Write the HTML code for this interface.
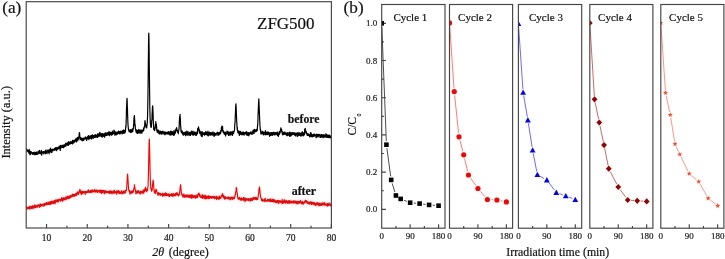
<!DOCTYPE html>
<html><head><meta charset="utf-8"><style>
html,body{margin:0;padding:0;background:#fff;width:725px;height:259px;overflow:hidden}
body{position:relative;font-family:"Liberation Serif",serif}
</style></head><body>
<svg width="725" height="259" viewBox="0 0 725 259" style="position:absolute;left:0;top:0;will-change:transform">
<style>text{stroke:currentColor;stroke-width:0.18px;paint-order:stroke}</style>
<rect x="0" y="0" width="725" height="259" fill="#fff"/>
<defs><clipPath id="ca"><rect x="26.2" y="1.7" width="305.2" height="226.3"/></clipPath></defs>
<g clip-path="url(#ca)" fill="none" stroke-linejoin="round">
<path d="M26.20 149.7 26.32 150.3 26.45 150.0 26.57 148.6 26.70 150.8 26.82 150.5 26.95 149.7 27.07 150.9 27.20 150.8 27.32 150.9 27.45 150.8 27.57 151.4 27.70 150.2 27.82 150.9 27.95 150.7 28.07 151.8 28.20 151.3 28.32 151.1 28.45 150.7 28.57 151.3 28.70 151.7 28.82 151.5 28.95 153.1 29.07 152.9 29.20 149.4 29.32 150.3 29.45 152.0 29.57 151.9 29.70 152.6 29.82 152.7 29.95 154.6 30.07 151.6 30.20 152.3 30.32 154.6 30.45 153.4 30.57 153.4 30.70 152.3 30.82 151.3 30.95 153.1 31.07 153.1 31.20 151.8 31.32 152.4 31.45 153.0 31.57 152.2 31.70 153.1 31.82 153.3 31.95 153.3 32.08 152.8 32.20 153.9 32.33 154.2 32.45 153.7 32.58 152.7 32.70 154.2 32.83 153.1 32.95 154.4 33.08 152.6 33.20 154.5 33.33 153.6 33.45 152.4 33.58 153.3 33.70 153.7 33.83 153.9 33.95 152.7 34.08 152.6 34.20 153.8 34.33 153.2 34.45 153.9 34.58 154.4 34.70 152.1 34.83 153.9 34.95 154.8 35.08 153.4 35.20 152.9 35.33 154.4 35.45 153.9 35.58 154.5 35.70 153.3 35.83 152.3 35.95 153.6 36.08 153.2 36.20 154.4 36.33 153.8 36.45 152.0 36.58 152.4 36.70 154.4 36.83 154.2 36.95 152.9 37.08 153.5 37.20 153.9 37.33 153.9 37.45 154.2 37.58 153.6 37.70 153.2 37.83 153.0 37.95 154.2 38.08 151.0 38.20 152.9 38.33 153.0 38.45 151.5 38.58 153.0 38.70 151.9 38.83 153.2 38.95 152.0 39.08 152.6 39.20 153.0 39.33 152.1 39.45 150.9 39.58 150.3 39.70 153.5 39.83 151.9 39.95 151.5 40.08 152.4 40.20 152.2 40.33 153.3 40.45 152.6 40.58 152.7 40.70 152.0 40.83 153.2 40.95 151.8 41.08 153.4 41.20 154.2 41.33 151.3 41.45 150.4 41.58 153.3 41.70 155.2 41.83 151.8 41.95 151.5 42.08 153.3 42.20 151.9 42.33 152.2 42.45 152.3 42.58 153.2 42.70 152.3 42.83 152.9 42.95 152.4 43.08 151.8 43.20 152.3 43.33 151.7 43.45 152.6 43.58 151.5 43.70 151.5 43.83 153.9 43.95 152.4 44.08 152.4 44.20 152.9 44.33 152.0 44.45 152.1 44.58 152.7 44.70 152.6 44.83 151.2 44.95 153.0 45.08 151.6 45.20 151.2 45.33 151.3 45.45 151.7 45.58 153.6 45.70 150.9 45.83 152.1 45.95 149.9 46.08 151.9 46.20 152.7 46.33 151.6 46.45 151.2 46.58 152.0 46.70 152.4 46.83 152.3 46.95 153.6 47.08 151.8 47.20 151.0 47.33 151.5 47.45 151.5 47.58 151.6 47.70 151.4 47.83 151.6 47.95 149.8 48.08 152.2 48.20 150.8 48.33 150.2 48.45 151.9 48.58 152.5 48.70 151.7 48.83 151.3 48.95 150.3 49.08 153.8 49.20 151.9 49.33 150.0 49.45 150.3 49.58 151.1 49.70 149.5 49.83 151.1 49.95 150.5 50.08 152.0 50.20 151.7 50.33 148.2 50.45 150.8 50.58 149.2 50.70 151.8 50.83 150.8 50.95 151.2 51.08 149.6 51.20 152.3 51.33 152.5 51.45 149.5 51.58 150.8 51.70 149.8 51.83 150.4 51.95 149.2 52.08 152.1 52.20 149.4 52.33 150.0 52.45 150.7 52.58 149.6 52.70 150.0 52.83 149.6 52.95 150.0 53.08 149.0 53.20 149.6 53.33 149.8 53.45 149.7 53.58 150.0 53.70 149.6 53.83 150.6 53.95 149.6 54.08 149.7 54.20 149.2 54.33 149.3 54.45 148.5 54.58 150.2 54.70 148.6 54.83 148.9 54.95 149.9 55.08 149.9 55.20 149.1 55.33 147.6 55.45 149.8 55.58 149.6 55.70 148.0 55.83 150.0 55.95 148.6 56.08 148.1 56.20 149.2 56.33 148.9 56.45 149.2 56.58 147.5 56.70 150.7 56.83 148.3 56.95 147.4 57.08 149.4 57.20 148.4 57.33 149.0 57.45 148.3 57.58 148.6 57.70 148.8 57.83 147.8 57.95 149.1 58.08 148.0 58.20 147.6 58.33 148.4 58.45 148.7 58.58 148.0 58.70 147.4 58.83 148.7 58.95 146.4 59.08 147.1 59.20 148.0 59.33 146.7 59.45 147.9 59.58 147.8 59.70 148.7 59.83 146.9 59.95 147.1 60.08 148.0 60.20 145.3 60.33 150.5 60.45 146.8 60.58 146.7 60.70 148.1 60.83 147.2 60.95 145.5 61.08 147.7 61.20 147.9 61.33 146.6 61.45 146.7 61.58 147.3 61.70 146.0 61.83 147.2 61.95 146.9 62.08 146.0 62.20 145.2 62.33 146.3 62.45 145.6 62.58 147.3 62.70 146.4 62.83 147.0 62.95 146.3 63.08 146.4 63.20 145.3 63.33 146.6 63.45 147.6 63.58 145.6 63.70 145.2 63.83 145.6 63.95 145.2 64.08 144.9 64.20 145.7 64.33 145.2 64.45 146.8 64.58 145.3 64.70 145.6 64.83 146.1 64.95 144.8 65.08 146.4 65.20 144.4 65.33 144.2 65.45 144.5 65.58 144.7 65.70 143.4 65.83 144.6 65.95 143.0 66.08 145.9 66.20 144.4 66.33 143.9 66.45 143.6 66.58 144.0 66.70 144.1 66.83 143.3 66.95 143.4 67.08 144.0 67.20 143.7 67.33 145.0 67.45 145.2 67.58 144.1 67.70 144.4 67.83 142.7 67.95 144.5 68.08 143.8 68.20 144.3 68.33 145.3 68.45 141.6 68.58 143.9 68.70 142.6 68.83 144.2 68.95 142.3 69.08 143.0 69.20 143.7 69.33 144.0 69.45 143.5 69.58 142.6 69.70 142.8 69.83 144.1 69.95 143.2 70.08 141.6 70.20 143.9 70.33 143.4 70.45 143.8 70.58 142.6 70.70 143.6 70.83 141.8 70.95 143.3 71.08 142.2 71.20 143.2 71.33 143.5 71.45 141.8 71.58 142.3 71.70 142.4 71.83 143.4 71.95 142.9 72.08 141.0 72.20 142.5 72.33 142.7 72.45 144.0 72.58 140.3 72.70 141.3 72.83 143.1 72.95 140.4 73.08 140.5 73.20 142.1 73.33 142.5 73.45 140.9 73.58 142.0 73.70 141.5 73.83 142.8 73.95 141.3 74.08 142.1 74.20 140.3 74.33 140.9 74.45 140.9 74.58 142.1 74.70 141.5 74.83 140.1 74.95 141.4 75.08 141.5 75.20 140.6 75.33 140.4 75.45 140.4 75.58 138.9 75.70 140.6 75.83 140.6 75.95 139.5 76.08 141.0 76.20 138.9 76.33 139.6 76.45 139.6 76.58 141.9 76.70 138.4 76.83 140.4 76.95 140.7 77.08 140.1 77.20 140.8 77.33 138.6 77.45 137.4 77.58 140.2 77.70 138.2 77.83 139.0 77.95 138.1 78.08 140.1 78.20 139.8 78.33 138.2 78.45 139.5 78.58 138.4 78.70 137.6 78.83 137.0 78.95 135.8 79.08 135.4 79.20 134.0 79.33 132.6 79.45 133.8 79.58 132.9 79.70 134.8 79.83 136.0 79.95 138.1 80.08 137.0 80.20 139.6 80.33 138.5 80.45 138.4 80.58 138.1 80.70 139.3 80.83 138.8 80.95 137.8 81.08 137.8 81.20 138.3 81.33 138.2 81.45 139.9 81.58 140.1 81.70 139.7 81.83 139.2 81.95 138.4 82.08 138.9 82.20 139.6 82.33 140.8 82.45 139.6 82.58 138.5 82.70 138.8 82.83 138.3 82.95 138.0 83.08 138.5 83.20 138.9 83.33 140.4 83.45 138.7 83.58 139.9 83.70 140.3 83.83 138.7 83.95 140.1 84.08 139.3 84.20 138.2 84.33 138.8 84.45 138.6 84.58 138.3 84.70 138.3 84.83 138.6 84.95 138.9 85.08 137.6 85.20 138.4 85.33 136.9 85.45 138.6 85.58 138.9 85.70 138.5 85.83 138.5 85.95 138.8 86.08 137.6 86.20 137.9 86.33 138.6 86.45 139.1 86.58 138.4 86.70 140.5 86.83 137.9 86.95 138.9 87.08 139.1 87.20 137.8 87.33 137.1 87.45 136.7 87.58 138.0 87.70 138.8 87.83 138.0 87.95 137.9 88.08 137.3 88.20 138.2 88.33 135.6 88.45 137.8 88.58 137.6 88.70 136.2 88.83 139.6 88.95 136.1 89.08 136.4 89.20 136.2 89.33 138.4 89.45 136.5 89.58 137.9 89.70 137.8 89.83 137.5 89.95 136.0 90.08 136.6 90.20 138.7 90.33 135.9 90.45 136.3 90.58 136.9 90.70 137.8 90.83 137.3 90.95 137.7 91.08 136.0 91.20 137.8 91.33 137.5 91.45 135.4 91.58 138.3 91.70 139.0 91.83 136.1 91.95 136.8 92.08 138.1 92.20 135.3 92.33 134.8 92.45 135.5 92.58 136.1 92.70 136.1 92.83 137.2 92.95 136.8 93.08 135.4 93.20 137.1 93.33 138.3 93.45 137.6 93.58 137.4 93.70 136.5 93.83 137.4 93.95 135.5 94.08 137.1 94.20 136.3 94.33 137.4 94.45 136.7 94.58 135.2 94.70 136.4 94.83 137.4 94.95 135.1 95.08 135.6 95.20 135.4 95.33 134.7 95.45 137.0 95.58 137.3 95.70 136.8 95.83 136.3 95.95 136.0 96.08 136.2 96.20 135.3 96.33 136.8 96.45 136.9 96.58 136.8 96.70 135.4 96.83 135.9 96.95 135.7 97.08 137.5 97.20 135.9 97.33 134.0 97.45 136.1 97.58 137.5 97.70 136.3 97.83 136.5 97.95 135.7 98.08 133.7 98.20 133.9 98.33 134.4 98.45 135.4 98.58 135.8 98.70 136.2 98.83 135.2 98.95 136.4 99.08 135.2 99.20 134.7 99.33 136.2 99.45 134.5 99.58 132.7 99.70 134.3 99.83 135.4 99.95 132.3 100.08 134.9 100.20 134.9 100.33 133.8 100.45 133.8 100.58 134.7 100.70 134.6 100.83 136.3 100.95 135.4 101.08 133.6 101.20 134.2 101.33 135.7 101.45 136.8 101.58 135.4 101.70 135.3 101.83 136.7 101.95 134.9 102.08 134.6 102.20 133.6 102.33 134.4 102.45 137.0 102.58 133.5 102.70 134.9 102.83 133.5 102.95 134.9 103.08 135.6 103.20 134.6 103.33 135.5 103.45 135.4 103.58 135.2 103.70 136.3 103.83 135.4 103.95 134.4 104.08 134.0 104.20 133.8 104.33 135.1 104.45 134.3 104.58 137.2 104.70 136.3 104.83 134.4 104.95 134.2 105.08 136.1 105.20 132.7 105.33 134.1 105.45 135.4 105.58 133.6 105.70 134.0 105.83 134.1 105.95 135.0 106.08 134.5 106.20 134.8 106.33 134.9 106.45 134.4 106.58 135.4 106.70 133.6 106.83 132.9 106.95 132.6 107.08 132.7 107.20 133.7 107.33 135.2 107.45 134.4 107.58 133.6 107.70 133.2 107.83 133.7 107.95 133.8 108.08 133.6 108.20 132.7 108.33 133.6 108.45 135.0 108.58 132.0 108.70 133.8 108.83 132.0 108.95 134.2 109.08 133.3 109.20 132.0 109.33 134.0 109.45 135.7 109.58 134.0 109.70 135.0 109.83 133.8 109.95 131.8 110.08 134.3 110.20 133.4 110.33 132.4 110.45 134.6 110.58 134.1 110.70 133.3 110.83 134.6 110.95 132.9 111.08 134.4 111.20 132.8 111.33 134.2 111.45 132.7 111.58 135.1 111.70 133.9 111.83 135.0 111.95 132.9 112.08 133.2 112.20 134.4 112.33 131.0 112.45 132.6 112.58 134.5 112.70 134.0 112.83 134.5 112.95 133.2 113.08 134.0 113.20 132.8 113.33 132.2 113.45 131.9 113.58 132.9 113.70 132.9 113.83 132.8 113.95 130.0 114.08 131.5 114.20 132.9 114.33 133.6 114.45 132.8 114.58 132.5 114.70 131.1 114.83 135.2 114.95 132.2 115.08 134.9 115.20 134.7 115.33 133.5 115.45 132.7 115.58 133.3 115.70 132.1 115.83 133.4 115.95 133.2 116.08 133.7 116.20 134.0 116.33 134.8 116.45 132.7 116.58 134.1 116.70 132.3 116.83 132.2 116.95 132.5 117.08 132.1 117.20 134.0 117.33 133.9 117.45 134.2 117.58 133.0 117.70 133.2 117.83 132.4 117.95 131.8 118.08 133.3 118.20 133.2 118.33 131.8 118.45 133.4 118.58 131.2 118.70 132.7 118.83 132.2 118.95 132.3 119.08 131.8 119.20 133.7 119.33 133.3 119.45 133.9 119.58 132.8 119.70 131.5 119.83 132.3 119.95 131.5 120.08 133.1 120.20 133.8 120.33 132.9 120.45 132.0 120.58 132.2 120.70 132.8 120.83 131.2 120.95 132.7 121.08 132.7 121.20 132.0 121.33 132.1 121.45 132.7 121.58 131.7 121.70 131.7 121.83 133.2 121.95 132.6 122.08 134.0 122.20 131.5 122.33 130.7 122.45 133.2 122.58 133.2 122.70 131.6 122.83 130.9 122.95 132.2 123.08 130.6 123.20 131.9 123.33 130.1 123.45 131.9 123.58 130.1 123.70 131.8 123.83 133.5 123.95 131.7 124.08 132.6 124.20 131.2 124.33 130.9 124.45 130.3 124.58 132.6 124.70 131.5 124.83 133.0 124.95 130.2 125.08 130.9 125.20 131.0 125.33 132.0 125.45 131.9 125.58 129.0 125.70 127.6 125.83 125.8 125.95 127.0 126.08 123.3 126.20 119.9 126.33 116.9 126.45 110.4 126.58 106.9 126.70 105.2 126.83 101.4 126.95 99.3 127.08 98.4 127.20 102.1 127.33 106.7 127.45 108.1 127.58 113.5 127.70 117.0 127.83 121.2 127.95 123.6 128.07 125.6 128.20 126.5 128.32 128.4 128.45 128.6 128.57 129.6 128.70 130.0 128.82 131.0 128.95 130.0 129.07 130.3 129.20 131.7 129.32 130.6 129.45 130.6 129.57 131.7 129.70 131.2 129.82 131.0 129.95 131.2 130.07 129.8 130.20 131.4 130.32 132.3 130.45 131.6 130.57 129.5 130.70 131.3 130.82 130.1 130.95 130.8 131.07 131.1 131.20 129.8 131.32 132.3 131.45 130.9 131.57 131.7 131.70 131.6 131.82 132.2 131.95 132.1 132.07 129.5 132.20 130.9 132.32 128.8 132.45 130.3 132.57 131.3 132.70 131.3 132.82 131.4 132.95 129.5 133.07 129.7 133.20 128.7 133.32 128.8 133.45 127.9 133.57 124.4 133.70 126.5 133.82 120.8 133.95 118.4 134.07 117.5 134.20 116.4 134.32 115.9 134.45 115.5 134.57 119.0 134.70 119.7 134.82 123.2 134.95 125.1 135.07 124.3 135.20 126.1 135.32 127.2 135.45 129.3 135.57 129.8 135.70 130.4 135.82 129.7 135.95 131.1 136.07 132.2 136.20 129.7 136.32 130.9 136.45 131.4 136.57 131.1 136.70 131.0 136.82 133.0 136.95 132.5 137.07 132.1 137.20 130.6 137.32 133.5 137.45 131.8 137.57 130.9 137.70 131.1 137.82 131.0 137.95 133.5 138.07 131.7 138.20 131.6 138.32 129.5 138.45 132.2 138.57 130.5 138.70 130.5 138.82 132.1 138.95 130.7 139.07 132.3 139.20 132.6 139.32 129.9 139.45 131.4 139.57 130.1 139.70 131.5 139.82 132.4 139.95 130.3 140.07 133.3 140.20 131.3 140.32 130.4 140.45 131.4 140.57 132.3 140.70 130.2 140.82 131.5 140.95 130.2 141.07 132.6 141.20 131.6 141.32 131.0 141.45 132.4 141.57 130.1 141.70 131.0 141.82 133.1 141.95 131.2 142.07 132.6 142.20 131.4 142.32 130.5 142.45 130.9 142.57 131.2 142.70 130.7 142.82 130.2 142.95 130.2 143.07 129.4 143.20 130.8 143.32 130.9 143.45 131.0 143.57 128.3 143.70 130.5 143.82 129.3 143.95 127.4 144.07 128.2 144.20 128.2 144.32 127.1 144.45 126.4 144.57 125.7 144.70 124.8 144.82 123.2 144.95 120.6 145.07 121.6 145.20 122.7 145.32 122.2 145.45 123.8 145.57 124.6 145.70 124.6 145.82 127.0 145.95 125.0 146.07 127.3 146.20 126.4 146.32 126.4 146.45 127.8 146.57 126.7 146.70 127.9 146.82 125.6 146.95 126.2 147.07 124.4 147.20 123.7 147.32 121.6 147.45 118.1 147.57 115.9 147.70 109.0 147.82 102.6 147.95 96.2 148.07 86.5 148.20 75.3 148.32 63.4 148.45 53.9 148.57 41.0 148.70 35.1 148.82 33.2 148.95 38.6 149.07 45.9 149.20 57.2 149.32 68.6 149.45 78.9 149.57 88.8 149.70 97.7 149.82 108.3 149.95 113.1 150.07 117.4 150.20 119.9 150.32 122.4 150.45 124.0 150.57 125.1 150.70 123.9 150.82 126.7 150.95 126.6 151.07 127.3 151.20 127.1 151.32 127.3 151.45 125.8 151.57 125.4 151.70 120.7 151.82 120.0 151.95 120.2 152.07 114.5 152.20 112.4 152.32 110.5 152.45 106.8 152.57 107.4 152.70 105.9 152.82 107.3 152.95 110.7 153.07 113.5 153.20 118.2 153.32 120.7 153.45 123.8 153.57 124.4 153.70 129.3 153.82 127.9 153.95 128.8 154.07 129.7 154.20 129.4 154.32 129.2 154.45 129.9 154.57 130.6 154.70 130.1 154.82 129.9 154.95 127.9 155.07 126.9 155.20 128.6 155.32 125.4 155.45 125.0 155.57 124.3 155.70 124.4 155.82 121.6 155.95 122.9 156.07 123.8 156.20 125.0 156.32 124.2 156.45 127.5 156.57 125.8 156.70 129.7 156.82 130.6 156.95 131.2 157.07 129.8 157.20 132.2 157.32 130.6 157.45 130.4 157.57 130.8 157.70 131.0 157.82 132.0 157.95 132.7 158.07 129.9 158.20 131.5 158.32 132.9 158.45 132.3 158.57 132.6 158.70 130.7 158.82 133.1 158.95 130.7 159.07 132.4 159.20 133.5 159.32 134.1 159.45 132.8 159.57 133.2 159.70 131.8 159.82 131.9 159.95 133.5 160.07 132.4 160.20 132.3 160.32 131.1 160.45 132.6 160.57 133.1 160.70 131.7 160.82 132.0 160.95 134.0 161.07 132.7 161.20 132.3 161.32 131.5 161.45 132.0 161.57 132.3 161.70 133.9 161.82 132.0 161.95 134.3 162.07 131.7 162.20 132.3 162.32 133.4 162.45 132.4 162.57 131.9 162.70 132.5 162.82 133.1 162.95 131.0 163.07 132.4 163.20 132.6 163.32 132.3 163.45 133.4 163.57 132.2 163.70 132.4 163.82 132.8 163.95 133.4 164.07 132.5 164.20 134.2 164.32 131.9 164.45 134.0 164.57 132.0 164.70 132.6 164.82 133.1 164.95 134.8 165.07 133.7 165.20 132.4 165.32 134.1 165.45 132.6 165.57 132.1 165.70 133.3 165.82 133.0 165.95 133.8 166.07 132.4 166.20 133.2 166.32 133.5 166.45 133.2 166.57 132.9 166.70 132.3 166.82 133.8 166.95 133.1 167.07 133.4 167.20 132.6 167.32 133.0 167.45 132.0 167.57 133.0 167.70 133.7 167.82 133.1 167.95 133.8 168.07 133.3 168.20 134.3 168.32 132.8 168.45 131.5 168.57 133.4 168.70 132.9 168.82 132.1 168.95 133.7 169.07 133.3 169.20 133.5 169.32 132.7 169.45 133.2 169.57 133.3 169.70 134.8 169.82 132.4 169.95 133.1 170.07 133.4 170.20 131.4 170.32 131.6 170.45 135.1 170.57 131.4 170.70 133.6 170.82 132.3 170.95 132.4 171.07 131.2 171.20 132.2 171.32 133.8 171.45 131.8 171.57 133.7 171.70 133.4 171.82 135.0 171.95 132.6 172.07 134.3 172.20 133.9 172.32 132.8 172.45 131.5 172.57 134.5 172.70 131.8 172.82 132.6 172.95 133.9 173.07 134.1 173.20 132.3 173.32 133.0 173.45 132.8 173.57 134.2 173.70 135.4 173.82 131.3 173.95 133.9 174.07 130.3 174.20 133.0 174.32 131.9 174.45 134.8 174.57 133.0 174.70 132.1 174.82 132.2 174.95 132.1 175.07 132.6 175.20 132.1 175.32 132.7 175.45 133.2 175.57 132.1 175.70 129.9 175.82 129.1 175.95 129.5 176.07 130.8 176.20 129.1 176.32 128.5 176.45 129.1 176.57 127.7 176.70 128.1 176.82 129.9 176.95 129.5 177.07 129.8 177.20 130.9 177.32 130.4 177.45 130.6 177.57 131.1 177.70 132.3 177.82 132.0 177.95 130.9 178.07 131.7 178.20 132.6 178.32 133.6 178.45 130.5 178.57 131.5 178.70 130.3 178.82 130.5 178.95 128.9 179.07 128.3 179.20 125.4 179.32 122.2 179.45 119.8 179.57 118.3 179.70 116.2 179.82 116.9 179.95 116.1 180.07 114.4 180.20 117.8 180.32 118.6 180.45 120.7 180.57 125.3 180.70 127.2 180.82 127.3 180.95 131.2 181.07 129.7 181.20 130.2 181.32 132.4 181.45 132.4 181.57 132.2 181.70 132.5 181.82 132.9 181.95 132.6 182.07 132.7 182.20 131.1 182.32 131.7 182.45 133.6 182.57 132.4 182.70 133.6 182.82 134.3 182.95 132.8 183.07 133.4 183.20 135.1 183.32 133.8 183.45 135.0 183.57 134.7 183.70 133.9 183.82 133.1 183.95 132.5 184.07 132.2 184.20 133.7 184.32 133.7 184.45 133.1 184.57 134.1 184.70 132.8 184.82 134.4 184.95 133.4 185.07 133.3 185.20 133.4 185.32 133.3 185.45 135.7 185.57 131.8 185.70 133.6 185.82 134.6 185.95 134.1 186.07 133.1 186.20 135.1 186.32 132.4 186.45 132.2 186.57 134.0 186.70 132.0 186.82 131.2 186.95 134.3 187.07 134.2 187.20 134.1 187.32 133.0 187.45 133.6 187.57 132.5 187.70 135.1 187.82 134.2 187.95 134.2 188.07 131.6 188.20 134.2 188.32 134.9 188.45 134.6 188.57 134.2 188.70 133.5 188.82 133.2 188.95 134.1 189.07 133.9 189.20 133.7 189.32 133.2 189.45 135.1 189.57 132.4 189.70 133.5 189.82 133.0 189.95 134.5 190.07 134.9 190.20 134.7 190.32 134.2 190.45 132.2 190.57 135.5 190.70 134.0 190.82 133.4 190.95 133.6 191.07 133.2 191.20 133.9 191.32 133.8 191.45 133.2 191.57 131.1 191.70 133.5 191.82 134.0 191.95 134.0 192.07 133.4 192.20 134.0 192.32 134.5 192.45 133.1 192.57 134.9 192.70 131.7 192.82 132.4 192.95 132.7 193.07 131.2 193.20 132.6 193.32 134.7 193.45 134.7 193.57 133.6 193.70 135.2 193.82 133.8 193.95 133.1 194.07 133.8 194.20 133.4 194.32 134.2 194.45 132.1 194.57 134.5 194.70 133.1 194.82 134.3 194.95 132.1 195.07 133.1 195.20 133.6 195.32 134.4 195.45 132.3 195.57 135.1 195.70 133.9 195.82 132.9 195.95 134.6 196.07 133.5 196.20 134.5 196.32 135.5 196.45 134.0 196.57 132.7 196.70 132.6 196.82 133.5 196.95 133.0 197.07 131.7 197.20 131.6 197.32 132.6 197.45 133.8 197.57 128.7 197.70 131.5 197.82 130.1 197.95 130.6 198.07 130.3 198.20 129.2 198.32 127.9 198.45 127.4 198.57 126.9 198.70 130.1 198.82 129.0 198.95 129.0 199.07 129.7 199.20 129.2 199.32 131.2 199.45 132.6 199.57 132.8 199.70 130.6 199.82 133.6 199.95 131.9 200.07 131.0 200.20 131.8 200.32 132.2 200.45 133.2 200.57 132.3 200.70 132.0 200.82 133.2 200.95 135.3 201.07 132.8 201.20 134.0 201.32 133.6 201.45 136.1 201.57 131.8 201.70 134.6 201.82 132.4 201.95 133.1 202.07 133.5 202.20 136.7 202.32 132.9 202.45 131.9 202.57 134.9 202.70 132.9 202.82 133.5 202.95 133.7 203.07 133.8 203.20 133.5 203.32 134.0 203.45 134.1 203.57 134.5 203.70 133.3 203.82 133.0 203.95 132.7 204.07 134.3 204.20 133.7 204.32 134.3 204.45 134.3 204.57 135.3 204.70 133.9 204.82 134.5 204.95 132.6 205.07 132.7 205.20 133.5 205.32 132.6 205.45 134.4 205.57 132.5 205.70 133.8 205.82 131.4 205.95 132.7 206.07 133.5 206.20 133.5 206.32 132.1 206.45 133.9 206.57 134.7 206.70 134.4 206.82 133.2 206.95 133.2 207.07 132.7 207.20 134.4 207.32 135.2 207.45 133.3 207.57 132.2 207.70 134.0 207.82 134.5 207.95 131.2 208.07 134.0 208.20 135.9 208.32 134.6 208.45 134.3 208.57 134.2 208.70 134.8 208.82 132.9 208.95 133.0 209.07 134.2 209.20 133.2 209.32 134.1 209.45 132.0 209.57 134.6 209.70 134.6 209.82 133.9 209.95 134.0 210.07 135.4 210.20 132.8 210.32 133.0 210.45 132.8 210.57 133.4 210.70 132.9 210.82 133.9 210.95 133.2 211.07 132.5 211.20 132.4 211.32 135.0 211.45 133.8 211.57 133.6 211.70 133.8 211.82 133.7 211.95 134.5 212.07 134.3 212.20 133.3 212.32 133.0 212.45 132.8 212.57 132.6 212.70 135.1 212.82 132.9 212.95 131.9 213.07 133.0 213.20 133.0 213.32 134.1 213.45 132.9 213.57 134.3 213.70 134.2 213.82 135.0 213.95 135.8 214.07 136.5 214.20 135.1 214.32 132.7 214.45 133.4 214.57 134.0 214.70 135.7 214.82 134.4 214.95 134.9 215.07 133.6 215.20 134.3 215.32 134.4 215.45 133.3 215.57 134.5 215.70 134.7 215.82 133.6 215.95 134.7 216.07 135.3 216.20 133.8 216.32 133.7 216.45 133.4 216.57 133.1 216.70 133.8 216.82 133.3 216.95 133.4 217.07 132.9 217.20 132.2 217.32 132.8 217.45 134.0 217.57 132.5 217.70 133.0 217.82 135.2 217.95 134.7 218.07 133.0 218.20 134.2 218.32 133.0 218.45 135.1 218.57 133.0 218.70 133.6 218.82 134.9 218.95 132.7 219.07 134.7 219.20 132.7 219.32 133.7 219.45 133.1 219.57 133.3 219.70 133.5 219.82 133.2 219.95 132.2 220.07 133.9 220.20 133.6 220.32 133.9 220.45 133.8 220.57 130.9 220.70 133.0 220.82 132.6 220.95 130.4 221.07 131.4 221.20 131.3 221.32 128.8 221.45 127.4 221.57 127.8 221.70 130.3 221.82 127.5 221.95 126.0 222.07 126.9 222.20 126.4 222.32 127.3 222.45 128.3 222.57 126.3 222.70 129.7 222.82 131.3 222.95 130.3 223.07 130.6 223.20 132.5 223.32 130.6 223.45 131.0 223.57 131.1 223.70 132.5 223.82 133.2 223.95 132.9 224.07 133.6 224.20 134.0 224.32 133.7 224.45 132.5 224.57 133.1 224.70 134.5 224.82 132.4 224.95 133.1 225.07 133.0 225.20 133.2 225.32 132.4 225.45 132.2 225.57 135.9 225.70 134.3 225.82 132.8 225.95 133.4 226.07 134.1 226.20 133.1 226.32 134.1 226.45 132.9 226.57 133.1 226.70 133.4 226.82 133.0 226.95 131.1 227.07 133.5 227.20 133.7 227.32 133.9 227.45 132.5 227.57 133.8 227.70 133.7 227.82 131.8 227.95 131.4 228.07 133.9 228.20 132.6 228.32 134.4 228.45 135.5 228.57 132.9 228.70 132.8 228.82 133.4 228.95 134.1 229.07 132.3 229.20 134.6 229.32 134.4 229.45 134.0 229.57 132.9 229.70 134.3 229.82 134.2 229.95 132.2 230.07 135.4 230.20 133.1 230.32 133.7 230.45 132.9 230.57 133.7 230.70 134.4 230.82 132.6 230.95 131.7 231.07 132.9 231.20 132.0 231.32 132.6 231.45 133.1 231.57 133.2 231.70 134.4 231.82 132.2 231.95 133.5 232.07 132.7 232.20 134.4 232.32 135.5 232.45 133.4 232.57 134.6 232.70 132.5 232.82 131.4 232.95 131.7 233.07 131.4 233.20 131.9 233.32 132.5 233.45 133.7 233.57 133.2 233.70 132.8 233.82 131.8 233.95 131.3 234.07 131.7 234.20 131.4 234.32 130.9 234.45 130.2 234.57 128.7 234.70 125.6 234.82 124.6 234.95 122.7 235.07 122.5 235.20 117.6 235.32 115.5 235.45 113.1 235.57 109.1 235.70 106.1 235.82 104.8 235.95 103.9 236.07 106.4 236.20 109.3 236.32 111.7 236.45 115.0 236.57 118.1 236.70 122.2 236.82 122.4 236.95 125.4 237.07 127.7 237.20 129.7 237.32 127.3 237.45 130.0 237.57 130.9 237.70 130.6 237.82 132.7 237.95 132.4 238.07 132.0 238.20 130.9 238.32 131.3 238.45 131.7 238.57 133.2 238.70 131.7 238.82 130.9 238.95 131.5 239.07 132.4 239.20 134.6 239.32 135.4 239.45 132.6 239.57 134.0 239.70 134.4 239.82 134.4 239.95 133.0 240.07 131.9 240.20 132.7 240.32 131.4 240.45 133.5 240.57 134.0 240.70 131.5 240.82 133.2 240.95 133.5 241.07 134.5 241.20 134.6 241.32 134.1 241.45 132.7 241.57 133.0 241.70 134.5 241.82 132.7 241.95 133.3 242.07 134.8 242.20 133.5 242.32 132.0 242.45 133.1 242.57 134.0 242.70 133.2 242.82 134.5 242.95 134.6 243.07 132.7 243.20 132.9 243.32 133.3 243.45 132.2 243.57 133.7 243.70 133.2 243.82 134.1 243.95 132.8 244.07 132.5 244.20 135.1 244.32 132.5 244.45 132.8 244.57 132.7 244.70 133.1 244.82 132.5 244.95 133.3 245.07 132.7 245.20 133.0 245.32 133.7 245.45 134.0 245.57 133.8 245.70 132.7 245.82 133.8 245.95 133.3 246.07 133.3 246.20 131.7 246.32 134.0 246.45 133.2 246.57 135.0 246.70 134.0 246.82 132.3 246.95 132.1 247.07 134.5 247.20 132.5 247.32 134.0 247.45 133.1 247.57 135.3 247.70 133.4 247.82 134.8 247.95 134.6 248.07 132.9 248.20 133.0 248.32 134.7 248.45 133.3 248.57 132.5 248.70 134.5 248.82 135.8 248.95 133.3 249.07 134.6 249.20 133.2 249.32 134.6 249.45 133.1 249.57 134.6 249.70 133.8 249.82 133.1 249.95 133.5 250.07 132.7 250.20 132.2 250.32 132.2 250.45 133.2 250.57 132.2 250.70 133.6 250.82 133.7 250.95 133.6 251.07 132.6 251.20 133.1 251.32 133.0 251.45 134.2 251.57 132.1 251.70 132.5 251.82 132.6 251.95 132.6 252.07 131.9 252.20 132.0 252.32 133.5 252.45 131.8 252.57 133.2 252.70 134.1 252.82 133.3 252.95 130.3 253.07 132.6 253.20 132.2 253.32 132.2 253.45 130.0 253.57 132.1 253.70 130.3 253.82 132.4 253.95 132.1 254.07 133.4 254.20 130.5 254.32 129.4 254.45 131.8 254.57 131.6 254.70 130.4 254.82 132.0 254.95 131.4 255.07 129.6 255.20 130.5 255.32 130.4 255.45 130.8 255.57 131.2 255.70 130.4 255.82 130.9 255.95 131.7 256.07 131.1 256.20 130.9 256.32 130.9 256.45 131.1 256.57 129.3 256.70 131.2 256.82 129.9 256.95 130.7 257.07 128.8 257.20 130.5 257.32 129.0 257.45 126.4 257.57 126.4 257.70 123.6 257.82 123.6 257.95 119.6 258.07 115.1 258.20 112.5 258.32 108.6 258.45 106.3 258.57 102.6 258.70 100.9 258.82 98.9 258.95 101.8 259.07 105.4 259.20 107.2 259.32 110.2 259.45 114.1 259.57 116.5 259.70 120.7 259.82 122.2 259.95 125.5 260.07 126.9 260.20 127.9 260.32 130.3 260.45 129.1 260.57 131.0 260.70 130.2 260.82 133.5 260.95 133.9 261.07 133.0 261.20 134.1 261.32 133.0 261.45 133.0 261.57 132.2 261.70 131.8 261.82 132.8 261.95 132.3 262.07 132.4 262.20 133.5 262.32 132.8 262.45 131.4 262.57 132.8 262.70 132.3 262.82 132.7 262.95 132.0 263.07 134.2 263.20 134.9 263.32 132.0 263.45 133.7 263.57 133.7 263.70 132.1 263.82 133.2 263.95 134.5 264.07 134.0 264.20 134.7 264.32 132.1 264.45 132.5 264.57 133.5 264.70 133.6 264.82 133.3 264.95 132.9 265.07 132.9 265.20 132.7 265.32 133.7 265.45 130.6 265.57 134.8 265.70 132.8 265.82 131.9 265.95 133.8 266.07 132.0 266.20 133.7 266.32 132.9 266.45 133.9 266.57 134.1 266.70 134.6 266.82 132.9 266.95 133.1 267.07 133.3 267.20 132.0 267.32 133.9 267.45 133.5 267.57 132.1 267.70 134.5 267.82 134.7 267.95 132.1 268.07 133.9 268.20 134.6 268.32 134.2 268.45 132.5 268.57 132.1 268.70 133.3 268.82 133.0 268.95 133.4 269.07 133.3 269.20 133.9 269.32 132.9 269.45 133.3 269.57 136.3 269.70 133.3 269.82 134.2 269.95 133.7 270.07 133.7 270.20 132.6 270.32 134.0 270.45 133.4 270.57 134.3 270.70 135.4 270.82 133.7 270.95 134.2 271.07 132.5 271.20 133.6 271.32 135.0 271.45 133.4 271.57 132.9 271.70 133.7 271.82 133.3 271.95 133.3 272.07 133.2 272.20 135.4 272.32 132.7 272.45 133.1 272.57 133.0 272.70 134.7 272.82 133.3 272.95 134.8 273.07 133.7 273.20 133.5 273.32 132.2 273.45 134.7 273.57 134.1 273.70 133.9 273.82 133.4 273.95 133.2 274.07 132.4 274.20 134.5 274.32 133.8 274.45 133.2 274.57 133.0 274.70 133.7 274.82 133.5 274.95 135.1 275.07 134.3 275.20 133.0 275.32 132.5 275.45 133.4 275.57 132.7 275.70 133.7 275.82 134.0 275.95 134.2 276.07 134.0 276.20 133.4 276.32 134.2 276.45 132.8 276.57 133.5 276.70 134.4 276.82 133.9 276.95 132.4 277.07 132.5 277.20 132.1 277.32 135.3 277.45 132.1 277.57 133.5 277.70 135.3 277.82 134.6 277.95 134.8 278.07 133.1 278.20 134.3 278.32 136.4 278.45 133.5 278.57 133.9 278.70 133.2 278.82 133.4 278.95 133.7 279.07 134.6 279.20 132.4 279.32 131.7 279.45 133.0 279.57 133.0 279.70 133.9 279.82 133.0 279.95 131.4 280.07 132.2 280.20 132.4 280.32 131.2 280.45 130.2 280.57 130.8 280.70 129.5 280.82 127.9 280.95 130.8 281.07 128.3 281.20 129.4 281.32 129.6 281.45 130.0 281.57 130.4 281.70 129.7 281.82 131.9 281.95 131.8 282.07 132.1 282.20 133.4 282.32 133.7 282.45 134.1 282.57 134.8 282.70 133.6 282.82 131.9 282.95 133.6 283.07 133.5 283.20 133.6 283.32 133.0 283.45 132.8 283.57 134.4 283.70 134.6 283.82 132.6 283.95 134.2 284.07 133.6 284.20 133.4 284.32 134.4 284.45 133.7 284.57 133.2 284.70 133.8 284.82 131.9 284.95 133.2 285.07 133.4 285.20 132.5 285.32 134.0 285.45 134.1 285.57 133.3 285.70 133.7 285.82 134.5 285.95 134.9 286.07 133.1 286.20 134.2 286.32 134.8 286.45 133.8 286.57 133.1 286.70 133.1 286.82 133.6 286.95 132.9 287.07 135.8 287.20 133.3 287.32 134.2 287.45 134.1 287.57 134.5 287.70 133.5 287.82 132.7 287.95 135.5 288.07 133.8 288.20 134.0 288.32 134.1 288.45 135.1 288.57 134.7 288.70 135.0 288.82 134.7 288.95 134.1 289.07 134.2 289.20 133.2 289.32 132.1 289.45 133.7 289.57 132.9 289.70 136.4 289.82 135.4 289.95 135.1 290.07 133.4 290.20 135.9 290.32 132.4 290.45 132.8 290.57 133.3 290.70 133.1 290.82 134.1 290.95 134.2 291.07 135.8 291.20 135.0 291.32 135.2 291.45 134.4 291.57 133.9 291.70 133.4 291.82 132.6 291.95 133.2 292.07 133.7 292.20 134.8 292.32 132.5 292.45 132.8 292.57 134.3 292.70 133.1 292.82 134.4 292.95 133.7 293.07 133.4 293.20 132.9 293.32 134.0 293.45 133.5 293.57 133.6 293.70 133.6 293.82 134.3 293.95 134.3 294.07 132.5 294.20 134.0 294.32 134.6 294.45 135.2 294.57 134.9 294.70 134.4 294.82 133.1 294.95 133.5 295.07 135.1 295.20 133.6 295.32 135.2 295.45 135.5 295.57 133.2 295.70 134.7 295.82 134.2 295.95 136.2 296.07 135.1 296.20 133.8 296.32 134.7 296.45 133.4 296.57 134.2 296.70 134.5 296.82 134.4 296.95 134.6 297.07 133.5 297.20 132.6 297.32 134.0 297.45 133.5 297.57 133.7 297.70 136.4 297.82 135.5 297.95 134.2 298.07 133.0 298.20 133.1 298.32 134.7 298.45 135.4 298.57 134.1 298.70 134.5 298.82 134.6 298.95 135.4 299.07 132.6 299.20 134.6 299.32 134.8 299.45 135.3 299.57 134.8 299.70 133.4 299.82 133.9 299.95 133.0 300.07 134.6 300.20 134.6 300.32 134.9 300.45 133.5 300.57 133.4 300.70 135.9 300.82 134.6 300.95 136.1 301.07 134.9 301.20 133.1 301.32 135.3 301.45 135.7 301.57 134.1 301.70 132.7 301.82 135.1 301.95 134.4 302.07 134.8 302.20 131.9 302.32 134.9 302.45 131.9 302.57 133.7 302.70 135.3 302.82 132.7 302.95 132.7 303.07 134.0 303.20 135.9 303.32 135.8 303.45 133.6 303.57 135.0 303.70 134.5 303.82 134.0 303.95 133.8 304.07 132.6 304.20 133.7 304.32 133.6 304.45 134.8 304.57 132.7 304.70 129.0 304.82 129.8 304.95 130.9 305.07 130.4 305.20 128.4 305.32 130.0 305.45 129.9 305.57 130.4 305.70 130.7 305.82 132.1 305.95 133.0 306.07 132.7 306.20 131.4 306.32 132.0 306.45 132.6 306.57 133.5 306.70 133.4 306.82 133.7 306.95 133.3 307.07 135.3 307.20 135.3 307.32 135.5 307.45 134.6 307.57 135.2 307.70 133.9 307.82 133.8 307.95 134.3 308.07 135.4 308.20 134.8 308.32 133.8 308.45 135.0 308.57 135.4 308.70 135.1 308.82 134.4 308.95 135.1 309.07 134.6 309.20 134.7 309.32 135.0 309.45 135.8 309.57 136.8 309.70 136.6 309.82 135.7 309.95 134.7 310.07 134.8 310.20 134.9 310.32 136.3 310.45 132.5 310.57 135.4 310.70 133.3 310.82 135.2 310.95 136.5 311.07 134.4 311.20 133.1 311.32 136.5 311.45 136.7 311.57 135.7 311.70 136.5 311.82 134.5 311.95 136.4 312.07 136.9 312.20 135.9 312.32 135.6 312.45 136.6 312.57 136.4 312.70 134.6 312.82 136.7 312.95 136.1 313.07 135.5 313.20 136.6 313.32 136.3 313.45 136.1 313.57 134.9 313.70 136.2 313.82 134.4 313.95 135.3 314.07 133.9 314.20 133.8 314.32 135.9 314.45 135.4 314.57 135.6 314.70 136.1 314.82 135.8 314.95 134.7 315.07 135.6 315.20 135.5 315.32 135.1 315.45 135.4 315.57 135.2 315.70 135.0 315.82 135.3 315.95 135.8 316.07 137.6 316.20 134.8 316.32 136.1 316.45 134.2 316.57 137.2 316.70 135.3 316.82 135.8 316.95 136.9 317.07 136.6 317.20 134.3 317.32 136.2 317.45 135.5 317.57 136.3 317.70 135.9 317.82 136.4 317.95 136.0 318.07 135.6 318.20 136.9 318.32 134.3 318.45 135.4 318.57 134.9 318.70 135.7 318.82 135.4 318.95 135.7 319.07 135.4 319.20 135.4 319.32 134.3 319.45 135.8 319.57 136.2 319.70 135.3 319.82 135.3 319.95 135.3 320.07 137.5 320.20 136.1 320.32 136.3 320.45 135.6 320.57 135.4 320.70 135.1 320.82 137.4 320.95 134.3 321.07 136.2 321.20 135.9 321.32 135.7 321.45 134.5 321.57 134.8 321.70 136.9 321.82 135.3 321.95 136.8 322.07 136.6 322.20 136.6 322.32 136.7 322.45 134.9 322.57 135.6 322.70 136.7 322.82 134.8 322.95 137.6 323.07 135.5 323.20 136.0 323.32 135.1 323.45 136.4 323.57 135.4 323.70 135.9 323.82 135.0 323.95 137.2 324.07 134.6 324.20 136.5 324.32 136.3 324.45 136.5 324.57 135.2 324.70 137.1 324.82 137.1 324.95 136.3 325.07 136.5 325.20 136.0 325.32 136.8 325.45 135.4 325.57 136.7 325.70 136.6 325.82 134.9 325.95 133.7 326.07 136.1 326.20 136.1 326.32 137.4 326.45 136.3 326.57 135.8 326.70 134.9 326.82 136.2 326.95 135.7 327.07 135.2 327.20 136.2 327.32 137.3 327.45 136.4 327.57 135.3 327.70 136.6 327.82 135.3 327.95 134.8 328.07 136.8 328.20 135.8 328.32 137.4 328.45 136.6 328.57 135.6 328.70 136.6 328.82 137.6 328.95 136.2 329.07 135.4 329.20 135.7 329.32 135.6 329.45 135.3 329.57 135.2 329.70 136.8 329.82 137.5 329.95 136.1 330.07 137.2 330.20 137.3 330.32 138.0 330.45 136.3 330.57 136.1 330.70 136.8 330.82 136.5 330.95 136.7 331.07 137.7 331.20 136.1 331.32 136.7 331.45 135.6 331.57 136.3" stroke="#000" stroke-width="1.2"/>
<path d="M26.20 208.4 26.32 207.9 26.45 207.9 26.57 206.4 26.70 209.5 26.82 209.0 26.95 207.9 27.07 208.7 27.20 208.3 27.32 207.7 27.45 208.8 27.57 207.8 27.70 207.7 27.82 207.4 27.95 208.3 28.07 207.8 28.20 208.3 28.32 207.4 28.45 207.9 28.57 207.1 28.70 208.4 28.82 207.9 28.95 208.0 29.07 208.0 29.20 206.9 29.32 208.3 29.45 209.2 29.57 206.4 29.70 206.3 29.82 206.4 29.95 208.2 30.07 207.6 30.20 208.3 30.32 208.0 30.45 207.6 30.57 207.6 30.70 207.3 30.82 208.0 30.95 206.5 31.07 207.0 31.20 207.5 31.32 208.6 31.45 206.7 31.57 206.4 31.70 206.8 31.82 207.9 31.95 207.0 32.08 208.1 32.20 205.7 32.33 207.9 32.45 207.8 32.58 205.9 32.70 207.1 32.83 207.9 32.95 207.0 33.08 207.7 33.20 208.7 33.33 207.1 33.45 206.6 33.58 206.2 33.70 207.3 33.83 206.6 33.95 206.6 34.08 206.6 34.20 207.2 34.33 205.9 34.45 205.5 34.58 204.8 34.70 207.5 34.83 206.6 34.95 207.7 35.08 206.5 35.20 205.9 35.33 206.8 35.45 206.4 35.58 205.5 35.70 205.7 35.83 207.7 35.95 206.6 36.08 206.6 36.20 206.1 36.33 205.7 36.45 206.9 36.58 206.1 36.70 205.6 36.83 206.0 36.95 205.4 37.08 206.2 37.20 206.9 37.33 205.4 37.45 207.1 37.58 205.5 37.70 206.1 37.83 205.3 37.95 205.7 38.08 205.9 38.20 205.5 38.33 205.3 38.45 205.3 38.58 205.1 38.70 204.6 38.83 205.5 38.95 206.0 39.08 206.3 39.20 206.1 39.33 207.4 39.45 205.8 39.58 205.2 39.70 206.9 39.83 204.7 39.95 206.2 40.08 204.7 40.20 205.7 40.33 203.9 40.45 206.0 40.58 205.2 40.70 204.6 40.83 206.5 40.95 205.8 41.08 205.3 41.20 204.6 41.33 205.1 41.45 205.0 41.58 205.7 41.70 205.7 41.83 204.6 41.95 204.6 42.08 204.6 42.20 204.0 42.33 204.5 42.45 204.9 42.58 205.4 42.70 205.9 42.83 204.2 42.95 205.2 43.08 204.5 43.20 206.3 43.33 204.7 43.45 205.1 43.58 204.0 43.70 204.0 43.83 204.8 43.95 204.3 44.08 204.8 44.20 203.4 44.33 205.0 44.45 203.8 44.58 205.8 44.70 204.2 44.83 205.2 44.95 203.3 45.08 204.7 45.20 203.7 45.33 203.9 45.45 204.3 45.58 204.0 45.70 204.4 45.83 204.8 45.95 204.7 46.08 204.1 46.20 203.1 46.33 203.5 46.45 203.9 46.58 202.4 46.70 204.6 46.83 203.8 46.95 203.8 47.08 204.6 47.20 204.4 47.33 204.0 47.45 203.1 47.58 204.0 47.70 204.0 47.83 203.1 47.95 204.5 48.08 204.0 48.20 202.1 48.33 203.7 48.45 202.6 48.58 204.4 48.70 204.1 48.83 202.6 48.95 202.7 49.08 203.4 49.20 203.1 49.33 204.4 49.45 203.8 49.58 203.0 49.70 203.6 49.83 201.6 49.95 203.3 50.08 203.7 50.20 202.9 50.33 202.5 50.45 203.4 50.58 204.4 50.70 203.1 50.83 202.0 50.95 203.9 51.08 201.4 51.20 203.1 51.33 202.3 51.45 203.4 51.58 202.0 51.70 203.6 51.83 202.8 51.95 201.3 52.08 201.0 52.20 202.2 52.33 203.4 52.45 202.5 52.58 202.4 52.70 202.2 52.83 202.9 52.95 202.5 53.08 202.4 53.20 201.5 53.33 203.0 53.45 203.1 53.58 201.1 53.70 203.8 53.83 202.6 53.95 201.6 54.08 200.5 54.20 202.4 54.33 202.3 54.45 201.4 54.58 200.5 54.70 202.6 54.83 201.3 54.95 201.3 55.08 203.8 55.20 203.2 55.33 202.3 55.45 201.2 55.58 202.0 55.70 199.8 55.83 201.5 55.95 200.8 56.08 200.4 56.20 200.1 56.33 201.7 56.45 201.3 56.58 201.3 56.70 201.8 56.83 200.5 56.95 200.2 57.08 199.8 57.20 200.8 57.33 201.6 57.45 200.9 57.58 201.4 57.70 200.0 57.83 200.5 57.95 200.3 58.08 199.9 58.20 202.2 58.33 201.4 58.45 200.1 58.58 200.1 58.70 200.6 58.83 199.5 58.95 200.9 59.08 199.5 59.20 200.2 59.33 199.6 59.45 200.0 59.58 199.3 59.70 199.1 59.83 199.5 59.95 199.7 60.08 199.9 60.20 200.2 60.33 201.2 60.45 200.6 60.58 199.8 60.70 200.5 60.83 199.4 60.95 200.9 61.08 200.2 61.20 198.8 61.33 200.3 61.45 200.3 61.58 197.6 61.70 199.0 61.83 199.2 61.95 198.1 62.08 198.7 62.20 198.7 62.33 199.8 62.45 199.6 62.58 201.3 62.70 199.0 62.83 200.1 62.95 199.2 63.08 199.3 63.20 198.2 63.33 197.6 63.45 198.4 63.58 199.5 63.70 200.1 63.83 199.3 63.95 199.2 64.08 198.1 64.20 199.9 64.33 199.7 64.45 198.2 64.58 198.6 64.70 197.8 64.83 199.6 64.95 198.8 65.08 198.4 65.20 198.7 65.33 198.7 65.45 198.0 65.58 197.3 65.70 197.3 65.83 196.9 65.95 198.5 66.08 199.8 66.20 196.8 66.33 198.1 66.45 198.3 66.58 197.2 66.70 198.0 66.83 197.0 66.95 198.7 67.08 197.3 67.20 197.8 67.33 198.2 67.45 197.3 67.58 196.2 67.70 197.1 67.83 198.1 67.95 197.4 68.08 197.6 68.20 196.5 68.33 197.4 68.45 197.8 68.58 197.3 68.70 198.6 68.83 197.0 68.95 196.3 69.08 195.8 69.20 197.9 69.33 196.9 69.45 197.7 69.58 197.2 69.70 198.1 69.83 197.7 69.95 196.5 70.08 196.9 70.20 197.5 70.33 195.7 70.45 197.7 70.58 197.4 70.70 197.2 70.83 196.3 70.95 196.6 71.08 195.5 71.20 196.3 71.33 195.8 71.45 196.2 71.58 195.8 71.70 196.3 71.83 196.9 71.95 195.0 72.08 196.6 72.20 194.4 72.33 194.2 72.45 195.7 72.58 195.7 72.70 196.0 72.83 194.4 72.95 195.5 73.08 195.6 73.20 196.4 73.33 195.4 73.45 195.8 73.58 194.6 73.70 195.2 73.83 194.9 73.95 195.7 74.08 194.4 74.20 194.5 74.33 195.5 74.45 196.3 74.58 195.2 74.70 195.1 74.83 194.6 74.95 195.6 75.08 195.2 75.20 196.0 75.33 194.9 75.45 193.9 75.58 194.1 75.70 193.8 75.83 193.5 75.95 195.4 76.08 195.0 76.20 193.4 76.33 195.6 76.45 194.4 76.58 193.4 76.70 194.4 76.83 194.0 76.95 193.4 77.08 192.5 77.20 193.9 77.33 194.1 77.45 191.9 77.58 194.2 77.70 194.2 77.83 193.3 77.95 193.7 78.08 193.4 78.20 192.9 78.33 193.2 78.45 194.4 78.58 192.2 78.70 193.4 78.83 193.3 78.95 192.5 79.08 192.4 79.20 191.4 79.33 191.4 79.45 191.5 79.58 191.1 79.70 189.6 79.83 192.1 79.95 189.3 80.08 190.1 80.20 190.4 80.33 190.8 80.45 192.6 80.58 191.7 80.70 193.3 80.83 193.3 80.95 191.8 81.08 193.4 81.20 192.2 81.33 194.7 81.45 192.4 81.58 191.9 81.70 191.2 81.83 191.7 81.95 192.2 82.08 191.9 82.20 191.7 82.33 192.1 82.45 192.4 82.58 193.6 82.70 191.2 82.83 192.1 82.95 191.8 83.08 191.3 83.20 191.5 83.33 191.8 83.45 193.0 83.58 192.3 83.70 192.0 83.83 192.8 83.95 192.6 84.08 192.2 84.20 192.6 84.33 191.7 84.45 192.8 84.58 192.6 84.70 191.9 84.83 191.3 84.95 193.4 85.08 192.3 85.20 194.5 85.33 191.7 85.45 192.8 85.58 191.8 85.70 192.3 85.83 192.7 85.95 191.5 86.08 192.0 86.20 192.2 86.33 192.1 86.45 192.5 86.58 192.8 86.70 192.6 86.83 192.2 86.95 191.7 87.08 191.1 87.20 191.4 87.33 191.5 87.45 192.4 87.58 191.6 87.70 190.9 87.83 192.3 87.95 191.2 88.08 191.2 88.20 191.6 88.33 192.1 88.45 189.9 88.58 190.9 88.70 191.8 88.83 191.4 88.95 191.0 89.08 191.2 89.20 192.7 89.33 191.3 89.45 192.1 89.58 192.2 89.70 191.2 89.83 191.9 89.95 191.2 90.08 191.0 90.20 190.6 90.33 192.1 90.45 191.1 90.58 191.0 90.70 190.6 90.83 192.7 90.95 191.9 91.08 191.3 91.20 190.8 91.33 190.2 91.45 191.5 91.58 191.5 91.70 190.2 91.83 192.1 91.95 191.8 92.08 190.5 92.20 190.8 92.33 190.9 92.45 191.3 92.58 191.0 92.70 189.9 92.83 192.2 92.95 191.3 93.08 192.0 93.20 192.0 93.33 190.9 93.45 191.3 93.58 191.5 93.70 191.6 93.83 190.9 93.95 190.5 94.08 191.0 94.20 190.4 94.33 190.6 94.45 189.5 94.58 191.1 94.70 190.3 94.83 190.7 94.95 191.0 95.08 191.3 95.20 192.5 95.33 191.3 95.45 190.0 95.58 191.2 95.70 190.7 95.83 191.4 95.95 190.6 96.08 190.6 96.20 190.8 96.33 190.7 96.45 189.8 96.58 190.7 96.70 191.2 96.83 192.1 96.95 191.0 97.08 190.9 97.20 191.7 97.33 191.6 97.45 192.4 97.58 191.7 97.70 191.2 97.83 192.3 97.95 192.4 98.08 190.9 98.20 191.4 98.33 190.0 98.45 191.0 98.58 190.6 98.70 191.1 98.83 191.0 98.95 191.2 99.08 191.3 99.20 191.7 99.33 191.5 99.45 190.9 99.58 190.4 99.70 192.3 99.83 192.4 99.95 191.0 100.08 191.8 100.20 190.3 100.33 190.2 100.45 191.2 100.58 192.5 100.70 190.7 100.83 190.8 100.95 192.7 101.08 190.0 101.20 192.0 101.33 191.9 101.45 191.3 101.58 191.6 101.70 193.5 101.83 190.7 101.95 191.3 102.08 191.4 102.20 191.0 102.33 190.6 102.45 192.8 102.58 191.7 102.70 190.3 102.83 191.1 102.95 191.9 103.08 191.9 103.20 190.5 103.33 191.6 103.45 191.8 103.58 191.9 103.70 192.0 103.83 190.3 103.95 193.1 104.08 191.9 104.20 193.1 104.33 193.9 104.45 191.6 104.58 190.8 104.70 192.4 104.83 191.6 104.95 191.4 105.08 191.0 105.20 193.0 105.33 191.5 105.45 190.7 105.58 191.5 105.70 190.9 105.83 191.9 105.95 191.5 106.08 191.0 106.20 192.3 106.33 191.4 106.45 192.4 106.58 192.8 106.70 191.6 106.83 191.4 106.95 192.1 107.08 192.6 107.20 191.9 107.33 192.0 107.45 191.9 107.58 192.2 107.70 192.4 107.83 191.4 107.95 191.6 108.08 192.0 108.20 191.5 108.33 192.1 108.45 192.4 108.58 192.0 108.70 191.6 108.83 191.4 108.95 193.3 109.08 192.7 109.20 191.2 109.33 191.4 109.45 193.4 109.58 193.2 109.70 192.1 109.83 192.9 109.95 190.9 110.08 192.1 110.20 192.6 110.33 190.7 110.45 191.5 110.58 192.7 110.70 192.9 110.83 191.6 110.95 192.3 111.08 193.3 111.20 191.8 111.33 191.1 111.45 192.1 111.58 191.8 111.70 193.1 111.83 192.2 111.95 191.5 112.08 193.9 112.20 191.8 112.33 192.5 112.45 192.6 112.58 192.7 112.70 192.3 112.83 192.6 112.95 192.1 113.08 191.1 113.20 192.0 113.33 192.0 113.45 192.0 113.58 192.3 113.70 191.7 113.83 193.2 113.95 193.4 114.08 190.5 114.20 192.2 114.33 191.7 114.45 190.2 114.58 192.5 114.70 191.7 114.83 191.9 114.95 191.7 115.08 193.0 115.20 193.2 115.33 192.4 115.45 192.8 115.58 192.2 115.70 192.3 115.83 191.7 115.95 192.3 116.08 191.7 116.20 192.5 116.33 192.9 116.45 192.5 116.58 193.2 116.70 194.3 116.83 190.7 116.95 192.3 117.08 191.9 117.20 191.9 117.33 191.3 117.45 192.3 117.58 192.1 117.70 191.8 117.83 192.1 117.95 191.9 118.08 190.6 118.20 193.1 118.33 192.1 118.45 191.6 118.58 192.6 118.70 191.8 118.83 190.7 118.95 193.0 119.08 191.1 119.20 192.2 119.33 192.4 119.45 193.4 119.58 193.2 119.70 192.5 119.83 191.8 119.95 192.0 120.08 193.2 120.20 193.7 120.33 192.8 120.45 191.9 120.58 193.1 120.70 192.1 120.83 192.1 120.95 192.2 121.08 192.8 121.20 192.6 121.33 193.1 121.45 193.4 121.58 192.8 121.70 190.6 121.83 191.1 121.95 192.5 122.08 192.3 122.20 194.0 122.33 192.4 122.45 192.3 122.58 193.1 122.70 193.2 122.83 192.2 122.95 192.7 123.08 191.5 123.20 191.7 123.33 193.3 123.45 191.3 123.58 193.1 123.70 192.9 123.83 192.9 123.95 193.0 124.08 192.8 124.20 190.7 124.33 191.6 124.45 191.8 124.58 193.0 124.70 191.4 124.83 191.7 124.95 191.9 125.08 193.2 125.20 191.1 125.33 191.1 125.45 192.5 125.58 190.4 125.70 192.1 125.83 191.4 125.95 190.4 126.08 191.0 126.20 190.2 126.33 190.6 126.45 190.0 126.58 189.9 126.70 187.4 126.83 185.9 126.95 183.4 127.08 181.5 127.20 180.0 127.33 175.6 127.45 175.8 127.58 174.1 127.70 174.9 127.83 176.5 127.95 178.9 128.07 180.8 128.20 182.6 128.32 185.2 128.45 186.8 128.57 188.1 128.70 189.5 128.82 190.8 128.95 190.8 129.07 191.2 129.20 190.4 129.32 191.5 129.45 190.3 129.57 192.3 129.70 191.2 129.82 192.9 129.95 194.2 130.07 191.7 130.20 193.0 130.32 192.4 130.45 191.7 130.57 191.5 130.70 192.5 130.82 193.2 130.95 192.4 131.07 191.0 131.20 191.4 131.32 192.0 131.45 193.2 131.57 192.4 131.70 192.4 131.82 193.1 131.95 192.0 132.07 192.1 132.20 192.0 132.32 190.8 132.45 192.4 132.57 192.3 132.70 192.7 132.82 191.0 132.95 191.2 133.07 192.4 133.20 191.7 133.32 192.2 133.45 190.1 133.57 190.3 133.70 189.0 133.82 189.0 133.95 187.6 134.07 187.6 134.20 187.3 134.32 186.6 134.45 184.7 134.57 187.1 134.70 187.4 134.82 187.0 134.95 188.0 135.07 189.4 135.20 190.5 135.32 190.3 135.45 189.8 135.57 191.6 135.70 191.7 135.82 193.6 135.95 190.9 136.07 193.8 136.20 193.3 136.32 192.3 136.45 193.3 136.57 192.1 136.70 192.8 136.82 191.6 136.95 192.2 137.07 191.4 137.20 190.9 137.32 191.9 137.45 191.6 137.57 192.6 137.70 193.1 137.82 192.0 137.95 192.2 138.07 192.3 138.20 190.9 138.32 192.4 138.45 192.2 138.57 192.1 138.70 191.3 138.82 190.7 138.95 192.0 139.07 192.4 139.20 193.1 139.32 193.0 139.45 193.2 139.57 192.4 139.70 193.0 139.82 192.0 139.95 192.6 140.07 192.8 140.20 194.1 140.32 192.3 140.45 191.2 140.57 193.2 140.70 191.5 140.82 192.1 140.95 191.9 141.07 191.4 141.20 193.1 141.32 192.6 141.45 191.7 141.57 192.2 141.70 191.8 141.82 192.6 141.95 191.8 142.07 191.5 142.20 191.6 142.32 191.8 142.45 192.3 142.57 191.4 142.70 192.0 142.82 192.4 142.95 193.8 143.07 192.7 143.20 189.8 143.32 191.6 143.45 191.7 143.57 192.2 143.70 193.0 143.82 192.3 143.95 190.0 144.07 191.8 144.20 191.5 144.32 191.5 144.45 192.0 144.57 189.8 144.70 191.2 144.82 188.7 144.95 189.7 145.07 189.5 145.20 190.6 145.32 188.1 145.45 187.3 145.57 189.0 145.70 188.1 145.82 190.0 145.95 188.5 146.07 188.7 146.20 190.6 146.32 190.0 146.45 190.9 146.57 189.2 146.70 191.7 146.82 190.0 146.95 191.1 147.07 189.7 147.20 189.1 147.32 189.9 147.45 189.9 147.57 190.4 147.70 188.7 147.82 187.9 147.95 186.4 148.07 186.2 148.20 180.4 148.32 178.4 148.45 172.9 148.57 168.0 148.70 161.4 148.82 156.4 148.95 148.5 149.07 143.2 149.20 140.7 149.32 139.1 149.45 142.4 149.57 146.9 149.70 151.3 149.82 158.7 149.95 163.8 150.07 170.0 150.20 175.0 150.32 180.5 150.45 182.3 150.57 184.1 150.70 186.0 150.82 188.9 150.95 187.7 151.07 189.2 151.20 189.7 151.32 188.5 151.45 190.2 151.57 191.3 151.70 190.7 151.82 189.7 151.95 190.6 152.07 189.9 152.20 190.3 152.32 187.3 152.45 186.4 152.57 185.3 152.70 183.7 152.82 182.5 152.95 181.4 153.07 180.5 153.20 180.1 153.32 181.8 153.45 182.6 153.57 184.4 153.70 186.3 153.82 188.5 153.95 189.9 154.07 189.5 154.20 191.2 154.32 192.2 154.45 191.9 154.57 191.0 154.70 190.8 154.82 193.1 154.95 193.3 155.07 192.8 155.20 191.8 155.32 193.5 155.45 193.2 155.57 192.0 155.70 191.5 155.82 189.8 155.95 191.4 156.07 189.2 156.20 190.5 156.32 190.3 156.45 189.9 156.57 191.2 156.70 190.2 156.82 191.4 156.95 192.1 157.07 192.2 157.20 192.2 157.32 193.8 157.45 193.4 157.57 193.2 157.70 193.4 157.82 193.8 157.95 195.5 158.07 193.9 158.20 193.7 158.32 193.1 158.45 193.1 158.57 192.6 158.70 194.3 158.82 194.1 158.95 193.4 159.07 193.1 159.20 194.0 159.32 193.9 159.45 193.3 159.57 194.5 159.70 194.4 159.82 194.3 159.95 195.0 160.07 193.9 160.20 195.4 160.32 193.7 160.45 194.8 160.57 194.9 160.70 194.3 160.82 194.8 160.95 193.5 161.07 193.4 161.20 194.4 161.32 194.0 161.45 195.0 161.57 194.6 161.70 195.0 161.82 194.8 161.95 194.7 162.07 194.7 162.20 194.3 162.32 194.3 162.45 196.2 162.57 193.3 162.70 194.5 162.82 195.4 162.95 195.0 163.07 195.7 163.20 195.1 163.32 193.8 163.45 194.5 163.57 193.7 163.70 195.5 163.82 195.8 163.95 194.4 164.07 195.2 164.20 194.5 164.32 193.7 164.45 194.4 164.57 193.6 164.70 194.4 164.82 195.0 164.95 195.4 165.07 195.8 165.20 194.6 165.32 195.0 165.45 195.2 165.57 195.3 165.70 192.7 165.82 194.3 165.95 195.5 166.07 194.0 166.20 195.1 166.32 195.5 166.45 193.5 166.57 194.8 166.70 195.1 166.82 194.9 166.95 193.8 167.07 195.2 167.20 194.5 167.32 195.6 167.45 195.3 167.57 194.6 167.70 195.1 167.82 194.5 167.95 194.5 168.07 193.8 168.20 194.8 168.32 195.6 168.45 195.1 168.57 195.0 168.70 194.6 168.82 194.7 168.95 195.6 169.07 193.9 169.20 196.6 169.32 195.0 169.45 196.7 169.57 196.0 169.70 194.8 169.82 195.6 169.95 195.3 170.07 195.5 170.20 195.7 170.32 194.7 170.45 194.7 170.57 194.8 170.70 194.1 170.82 194.9 170.95 195.3 171.07 195.3 171.20 195.3 171.32 194.9 171.45 195.8 171.57 193.6 171.70 194.9 171.82 194.9 171.95 195.9 172.07 195.7 172.20 195.8 172.32 195.2 172.45 195.9 172.57 194.5 172.70 195.3 172.82 193.6 172.95 196.5 173.07 196.4 173.20 194.8 173.32 194.6 173.45 193.7 173.57 194.1 173.70 195.3 173.82 195.1 173.95 194.2 174.07 194.9 174.20 194.8 174.32 195.6 174.45 195.8 174.57 195.1 174.70 195.3 174.82 195.2 174.95 193.7 175.07 195.3 175.20 195.1 175.32 195.7 175.45 193.7 175.57 195.6 175.70 194.4 175.82 195.0 175.95 195.5 176.07 193.3 176.20 193.2 176.32 194.7 176.45 192.9 176.57 192.7 176.70 193.7 176.82 192.9 176.95 193.6 177.07 193.2 177.20 193.1 177.32 194.0 177.45 195.2 177.57 193.7 177.70 195.1 177.82 195.1 177.95 194.5 178.07 194.9 178.20 194.0 178.32 194.4 178.45 195.1 178.57 194.9 178.70 195.9 178.82 194.0 178.95 194.6 179.07 194.2 179.20 194.3 179.32 195.0 179.45 192.7 179.57 193.5 179.70 191.5 179.82 190.6 179.95 190.3 180.07 188.0 180.20 187.4 180.32 185.9 180.45 185.1 180.57 185.1 180.70 184.7 180.82 186.6 180.95 188.7 181.07 190.1 181.20 190.1 181.32 193.0 181.45 193.6 181.57 192.9 181.70 193.6 181.82 195.2 181.95 193.7 182.07 194.7 182.20 195.3 182.32 195.4 182.45 195.5 182.57 195.9 182.70 195.0 182.82 195.3 182.95 197.2 183.07 194.7 183.20 195.4 183.32 195.9 183.45 195.3 183.57 196.8 183.70 195.9 183.82 196.4 183.95 193.9 184.07 196.8 184.20 196.8 184.32 195.4 184.45 196.9 184.57 196.2 184.70 196.7 184.82 197.4 184.95 196.1 185.07 195.3 185.20 196.0 185.32 195.1 185.45 195.5 185.57 195.5 185.70 195.5 185.82 197.0 185.95 196.7 186.07 195.4 186.20 197.0 186.32 194.9 186.45 195.6 186.57 196.0 186.70 197.0 186.82 196.7 186.95 196.5 187.07 197.2 187.20 196.7 187.32 197.2 187.45 195.6 187.57 194.9 187.70 195.9 187.82 196.9 187.95 196.4 188.07 196.9 188.20 196.8 188.32 196.6 188.45 196.9 188.57 195.7 188.70 197.1 188.82 195.5 188.95 196.2 189.07 195.2 189.20 196.7 189.32 195.1 189.45 197.4 189.57 195.3 189.70 196.5 189.82 196.2 189.95 195.7 190.07 197.3 190.20 196.0 190.32 197.5 190.45 195.6 190.57 195.8 190.70 194.9 190.82 196.8 190.95 197.1 191.07 196.6 191.20 196.3 191.32 195.7 191.45 198.2 191.57 197.0 191.70 195.0 191.82 196.2 191.95 194.5 192.07 197.6 192.20 197.9 192.32 197.6 192.45 196.4 192.57 196.0 192.70 195.4 192.82 196.9 192.95 195.9 193.07 196.2 193.20 196.0 193.32 196.3 193.45 197.2 193.57 197.8 193.70 196.6 193.82 196.5 193.95 195.7 194.07 195.6 194.20 195.7 194.32 197.2 194.45 196.7 194.57 197.3 194.70 196.9 194.82 196.3 194.95 195.6 195.07 196.3 195.20 195.5 195.32 198.1 195.45 196.8 195.57 196.3 195.70 198.1 195.82 196.3 195.95 197.0 196.07 196.5 196.20 196.9 196.32 196.3 196.45 196.9 196.57 197.6 196.70 195.6 196.82 194.8 196.95 197.5 197.07 196.6 197.20 197.0 197.32 196.1 197.45 197.4 197.57 197.5 197.70 195.0 197.82 196.2 197.95 195.1 198.07 194.1 198.20 194.8 198.32 195.2 198.45 193.4 198.57 193.3 198.70 195.0 198.82 194.0 198.95 194.3 199.07 193.2 199.20 193.7 199.32 194.6 199.45 194.9 199.57 195.1 199.70 196.5 199.82 195.7 199.95 194.6 200.07 195.3 200.20 196.1 200.32 197.2 200.45 195.9 200.57 196.2 200.70 196.5 200.82 196.1 200.95 196.0 201.07 196.5 201.20 197.5 201.32 197.1 201.45 196.6 201.57 197.1 201.70 195.8 201.82 197.6 201.95 197.4 202.07 197.1 202.20 195.6 202.32 198.4 202.45 194.7 202.57 196.1 202.70 196.2 202.82 197.4 202.95 195.8 203.07 197.1 203.20 196.8 203.32 196.7 203.45 197.6 203.57 198.0 203.70 197.3 203.82 196.8 203.95 195.2 204.07 198.1 204.20 196.8 204.32 195.6 204.45 197.1 204.57 198.1 204.70 196.9 204.82 196.1 204.95 198.7 205.07 197.5 205.20 197.3 205.32 197.8 205.45 195.4 205.57 197.0 205.70 197.0 205.82 198.8 205.95 196.7 206.07 196.7 206.20 196.1 206.32 196.5 206.45 197.0 206.57 197.3 206.70 197.0 206.82 198.7 206.95 197.5 207.07 197.6 207.20 198.2 207.32 197.7 207.45 196.8 207.57 196.0 207.70 197.5 207.82 196.6 207.95 198.2 208.07 196.6 208.20 195.5 208.32 197.3 208.45 198.0 208.57 197.1 208.70 197.4 208.82 197.4 208.95 198.6 209.07 197.5 209.20 197.2 209.32 196.8 209.45 196.0 209.57 198.4 209.70 198.2 209.82 196.6 209.95 197.8 210.07 197.6 210.20 197.0 210.32 197.1 210.45 197.9 210.57 196.4 210.70 196.9 210.82 197.3 210.95 197.3 211.07 197.2 211.20 197.5 211.32 197.8 211.45 196.7 211.57 197.4 211.70 197.0 211.82 198.5 211.95 196.3 212.07 197.2 212.20 197.9 212.32 197.2 212.45 197.2 212.57 197.0 212.70 197.7 212.82 196.6 212.95 197.4 213.07 197.4 213.20 196.3 213.32 197.7 213.45 197.1 213.57 197.7 213.70 198.1 213.82 197.8 213.95 196.6 214.07 197.8 214.20 196.3 214.32 196.9 214.45 198.8 214.57 197.5 214.70 198.7 214.82 197.4 214.95 197.6 215.07 196.7 215.20 198.3 215.32 197.4 215.45 198.1 215.57 197.9 215.70 198.0 215.82 197.9 215.95 197.6 216.07 197.6 216.20 197.1 216.32 196.0 216.45 198.0 216.57 199.2 216.70 198.5 216.82 199.4 216.95 198.0 217.07 197.0 217.20 196.9 217.32 198.3 217.45 198.0 217.57 197.6 217.70 198.3 217.82 197.1 217.95 198.1 218.07 197.5 218.20 197.9 218.32 198.6 218.45 197.6 218.57 198.8 218.70 198.8 218.82 197.2 218.95 199.5 219.07 196.8 219.20 197.7 219.32 198.3 219.45 196.0 219.57 198.5 219.70 198.6 219.82 197.7 219.95 197.9 220.07 197.9 220.20 197.6 220.32 198.5 220.45 197.4 220.57 197.6 220.70 197.8 220.82 198.1 220.95 198.2 221.07 196.1 221.20 195.5 221.32 196.7 221.45 196.6 221.57 195.5 221.70 196.2 221.82 196.2 221.95 195.6 222.07 196.3 222.20 193.9 222.32 194.5 222.45 195.9 222.57 194.9 222.70 193.7 222.82 195.0 222.95 196.0 223.07 197.0 223.20 196.3 223.32 197.0 223.45 195.6 223.57 196.6 223.70 197.9 223.82 196.5 223.95 197.3 224.07 196.1 224.20 198.8 224.32 197.6 224.45 198.2 224.57 196.7 224.70 196.9 224.82 199.3 224.95 197.7 225.07 197.6 225.20 198.4 225.32 198.4 225.45 196.5 225.57 197.3 225.70 198.1 225.82 198.1 225.95 198.4 226.07 197.8 226.20 197.9 226.32 198.3 226.45 197.6 226.57 197.5 226.70 197.7 226.82 198.2 226.95 198.0 227.07 197.8 227.20 198.0 227.32 198.1 227.45 198.4 227.57 198.5 227.70 197.2 227.82 198.9 227.95 197.0 228.07 198.6 228.20 197.7 228.32 198.7 228.45 199.0 228.57 196.8 228.70 198.7 228.82 198.5 228.95 197.9 229.07 198.6 229.20 197.9 229.32 198.4 229.45 197.5 229.57 198.9 229.70 198.7 229.82 198.9 229.95 197.8 230.07 199.7 230.20 199.8 230.32 198.2 230.45 198.0 230.57 198.0 230.70 198.8 230.82 199.1 230.95 197.8 231.07 196.8 231.20 198.7 231.32 198.3 231.45 198.5 231.57 198.7 231.70 197.5 231.82 198.4 231.95 198.1 232.07 198.6 232.20 199.3 232.32 198.3 232.45 197.7 232.57 199.3 232.70 198.9 232.82 198.2 232.95 196.9 233.07 197.6 233.20 198.4 233.32 198.7 233.45 197.9 233.57 198.6 233.70 197.7 233.82 197.9 233.95 198.6 234.07 197.9 234.20 198.1 234.32 198.6 234.45 198.7 234.57 197.2 234.70 197.2 234.82 196.1 234.95 195.8 235.07 196.5 235.20 195.3 235.32 193.6 235.45 194.6 235.57 192.7 235.70 192.2 235.82 191.8 235.95 190.9 236.07 189.7 236.20 187.6 236.32 189.1 236.45 188.2 236.57 187.9 236.70 188.0 236.82 191.4 236.95 191.5 237.07 192.4 237.20 193.8 237.32 194.2 237.45 193.9 237.57 196.3 237.70 197.1 237.82 197.3 237.95 198.4 238.07 199.1 238.20 197.3 238.32 197.7 238.45 198.9 238.57 198.5 238.70 198.6 238.82 199.2 238.95 199.1 239.07 198.3 239.20 198.8 239.32 198.2 239.45 198.6 239.57 197.9 239.70 197.3 239.82 198.5 239.95 198.4 240.07 199.5 240.20 200.1 240.32 198.9 240.45 199.3 240.57 198.5 240.70 198.3 240.82 198.8 240.95 198.8 241.07 199.2 241.20 199.1 241.32 200.3 241.45 198.9 241.57 197.8 241.70 199.2 241.82 198.6 241.95 199.3 242.07 200.0 242.20 198.7 242.32 199.1 242.45 199.6 242.57 198.5 242.70 199.4 242.82 199.6 242.95 199.8 243.07 200.1 243.20 199.7 243.32 199.6 243.45 198.2 243.57 197.3 243.70 198.6 243.82 200.4 243.95 199.4 244.07 197.6 244.20 199.0 244.32 199.6 244.45 198.0 244.57 199.8 244.70 198.5 244.82 200.2 244.95 199.4 245.07 201.7 245.20 198.4 245.32 199.6 245.45 198.3 245.57 200.3 245.70 199.5 245.82 200.1 245.95 199.5 246.07 198.6 246.20 199.0 246.32 198.5 246.45 198.7 246.57 199.6 246.70 200.3 246.82 200.1 246.95 199.9 247.07 199.1 247.20 199.9 247.32 198.9 247.45 199.7 247.57 200.1 247.70 199.4 247.82 199.2 247.95 199.2 248.07 200.0 248.20 199.3 248.32 198.5 248.45 199.2 248.57 198.8 248.70 200.7 248.82 199.6 248.95 198.5 249.07 199.8 249.20 200.1 249.32 199.8 249.45 199.3 249.57 199.7 249.70 199.8 249.82 200.3 249.95 199.8 250.07 201.3 250.20 199.4 250.32 200.7 250.45 199.6 250.57 198.3 250.70 198.7 250.82 198.2 250.95 198.2 251.07 200.4 251.20 199.0 251.32 199.9 251.45 198.8 251.57 199.4 251.70 198.6 251.82 200.0 251.95 199.1 252.07 198.9 252.20 199.1 252.32 200.7 252.45 199.4 252.57 199.6 252.70 198.0 252.82 198.3 252.95 199.0 253.07 197.3 253.20 199.6 253.32 198.7 253.45 198.4 253.57 198.2 253.70 198.1 253.82 197.8 253.95 199.2 254.07 198.6 254.20 199.0 254.32 197.9 254.45 197.5 254.57 199.2 254.70 197.3 254.82 197.8 254.95 198.9 255.07 199.3 255.20 197.6 255.32 198.4 255.45 198.7 255.57 198.7 255.70 198.2 255.82 199.5 255.95 198.6 256.07 198.9 256.20 197.4 256.32 199.1 256.45 197.8 256.57 199.8 256.70 199.6 256.82 198.9 256.95 199.3 257.07 199.3 257.20 199.0 257.32 199.3 257.45 198.8 257.57 198.3 257.70 197.8 257.82 199.3 257.95 197.7 258.07 197.0 258.20 196.9 258.32 195.2 258.45 194.3 258.57 194.0 258.70 193.1 258.82 191.7 258.95 188.9 259.07 189.0 259.20 188.2 259.32 188.1 259.45 187.1 259.57 187.3 259.70 188.8 259.82 189.2 259.95 190.2 260.07 192.2 260.20 194.1 260.32 194.6 260.45 196.3 260.57 195.6 260.70 197.6 260.82 197.7 260.95 197.6 261.07 198.3 261.20 198.3 261.32 199.0 261.45 198.8 261.57 200.5 261.70 199.4 261.82 198.7 261.95 199.6 262.07 200.1 262.20 199.7 262.32 200.6 262.45 199.3 262.57 199.4 262.70 201.2 262.82 200.1 262.95 200.5 263.07 200.5 263.20 200.6 263.32 200.2 263.45 200.0 263.57 201.0 263.70 199.9 263.82 200.3 263.95 200.8 264.07 200.0 264.20 199.2 264.32 200.6 264.45 201.1 264.57 200.5 264.70 199.1 264.82 200.8 264.95 201.8 265.07 199.2 265.20 198.4 265.32 200.2 265.45 200.5 265.57 201.0 265.70 201.0 265.82 200.5 265.95 200.9 266.07 200.7 266.20 200.6 266.32 200.5 266.45 200.4 266.57 201.0 266.70 200.8 266.82 200.2 266.95 201.3 267.07 200.0 267.20 200.4 267.32 200.7 267.45 199.2 267.57 200.3 267.70 201.2 267.82 201.2 267.95 199.7 268.07 200.0 268.20 199.8 268.32 200.5 268.45 200.6 268.57 199.5 268.70 200.9 268.82 200.7 268.95 200.6 269.07 200.2 269.20 200.6 269.32 199.4 269.45 200.9 269.57 200.9 269.70 200.7 269.82 199.9 269.95 201.7 270.07 201.6 270.20 199.4 270.32 201.1 270.45 200.9 270.57 198.9 270.70 201.2 270.82 201.3 270.95 201.4 271.07 201.0 271.20 200.4 271.32 200.5 271.45 201.2 271.57 201.7 271.70 200.5 271.82 200.7 271.95 201.4 272.07 199.3 272.20 201.2 272.32 200.8 272.45 199.3 272.57 201.5 272.70 200.3 272.82 201.5 272.95 202.0 273.07 200.1 273.20 200.1 273.32 201.0 273.45 199.7 273.57 201.6 273.70 201.2 273.82 201.8 273.95 199.7 274.07 201.2 274.20 201.4 274.32 199.8 274.45 201.7 274.57 200.1 274.70 201.2 274.82 200.1 274.95 201.7 275.07 202.4 275.20 201.2 275.32 201.2 275.45 202.1 275.57 200.8 275.70 201.2 275.82 201.8 275.95 201.5 276.07 202.4 276.20 202.1 276.32 202.6 276.45 201.2 276.57 202.1 276.70 200.7 276.82 201.9 276.95 202.6 277.07 203.0 277.20 200.4 277.32 201.2 277.45 201.9 277.57 200.7 277.70 201.8 277.82 201.8 277.95 201.0 278.07 201.0 278.20 200.7 278.32 201.6 278.45 202.3 278.57 201.6 278.70 203.5 278.82 200.4 278.95 201.0 279.07 202.0 279.20 200.6 279.32 201.7 279.45 202.1 279.57 201.6 279.70 201.3 279.82 202.2 279.95 201.8 280.07 202.1 280.20 201.9 280.32 201.1 280.45 200.7 280.57 201.3 280.70 201.7 280.82 201.4 280.95 202.3 281.07 201.8 281.20 202.3 281.32 201.7 281.45 201.1 281.57 202.2 281.70 202.0 281.82 201.0 281.95 201.3 282.07 203.7 282.20 199.2 282.32 202.5 282.45 201.7 282.57 201.6 282.70 201.5 282.82 201.3 282.95 203.4 283.07 201.4 283.20 201.5 283.32 202.3 283.45 202.0 283.57 201.6 283.70 201.5 283.82 200.7 283.95 202.5 284.07 200.9 284.20 199.9 284.32 202.5 284.45 202.3 284.57 202.0 284.70 201.4 284.82 202.6 284.95 201.0 285.07 200.1 285.20 201.9 285.32 202.4 285.45 202.2 285.57 203.3 285.70 202.4 285.82 201.6 285.95 201.7 286.07 202.5 286.20 201.8 286.32 201.7 286.45 200.5 286.57 201.6 286.70 200.9 286.82 202.0 286.95 202.0 287.07 202.4 287.20 203.2 287.32 201.7 287.45 203.0 287.57 201.0 287.70 202.0 287.82 202.6 287.95 203.4 288.07 201.1 288.20 201.7 288.32 202.0 288.45 201.9 288.57 201.2 288.70 200.7 288.82 201.0 288.95 201.9 289.07 201.0 289.20 203.3 289.32 202.9 289.45 200.6 289.57 201.6 289.70 203.0 289.82 203.1 289.95 202.8 290.07 200.9 290.20 201.7 290.32 203.0 290.45 202.1 290.57 201.7 290.70 202.4 290.82 202.8 290.95 202.2 291.07 202.2 291.20 202.9 291.32 201.6 291.45 201.4 291.57 202.7 291.70 201.2 291.82 202.5 291.95 201.6 292.07 202.7 292.20 201.2 292.32 203.0 292.45 202.3 292.57 201.9 292.70 201.5 292.82 202.0 292.95 201.5 293.07 201.3 293.20 203.0 293.32 202.6 293.45 203.1 293.57 201.2 293.70 200.7 293.82 201.0 293.95 202.7 294.07 202.8 294.20 200.8 294.32 203.0 294.45 201.9 294.57 201.3 294.70 202.2 294.82 202.7 294.95 202.1 295.07 202.1 295.20 201.6 295.32 201.2 295.45 202.0 295.57 201.0 295.70 202.7 295.82 201.6 295.95 203.3 296.07 201.1 296.20 203.3 296.32 201.6 296.45 201.6 296.57 202.5 296.70 203.0 296.82 202.3 296.95 202.1 297.07 203.8 297.20 202.7 297.32 201.4 297.45 202.2 297.57 203.6 297.70 202.6 297.82 203.0 297.95 203.9 298.07 201.9 298.20 202.7 298.32 201.9 298.45 202.4 298.57 202.8 298.70 201.4 298.82 202.5 298.95 202.5 299.07 203.2 299.20 202.0 299.32 201.5 299.45 202.7 299.57 201.6 299.70 202.6 299.82 202.9 299.95 201.8 300.07 202.4 300.20 201.7 300.32 200.4 300.45 201.4 300.57 200.9 300.70 202.5 300.82 201.7 300.95 202.4 301.07 202.5 301.20 203.3 301.32 202.3 301.45 202.2 301.57 202.9 301.70 203.8 301.82 202.5 301.95 202.8 302.07 202.4 302.20 202.1 302.32 201.4 302.45 202.5 302.57 202.4 302.70 202.4 302.82 204.1 302.95 202.3 303.07 202.8 303.20 202.3 303.32 203.4 303.45 202.3 303.57 203.9 303.70 202.2 303.82 203.0 303.95 203.1 304.07 202.1 304.20 202.8 304.32 202.1 304.45 201.4 304.57 201.4 304.70 202.0 304.82 203.0 304.95 201.2 305.07 201.8 305.20 200.7 305.32 201.4 305.45 200.2 305.57 200.5 305.70 201.1 305.82 200.6 305.95 201.0 306.07 202.0 306.20 201.3 306.32 201.0 306.45 200.7 306.57 201.4 306.70 202.8 306.82 202.0 306.95 202.1 307.07 202.8 307.20 203.0 307.32 203.3 307.45 202.3 307.57 202.0 307.70 201.5 307.82 202.3 307.95 202.6 308.07 203.4 308.20 203.2 308.32 202.5 308.45 203.7 308.57 202.1 308.70 202.2 308.82 202.2 308.95 202.2 309.07 202.9 309.20 202.5 309.32 202.5 309.45 204.1 309.57 202.0 309.70 202.4 309.82 203.0 309.95 203.5 310.07 203.5 310.20 203.0 310.32 202.9 310.45 203.0 310.57 203.8 310.70 202.5 310.82 201.5 310.95 203.4 311.07 202.4 311.20 203.2 311.32 204.3 311.45 203.4 311.57 204.7 311.70 202.1 311.82 203.5 311.95 203.6 312.07 204.0 312.20 202.8 312.32 203.5 312.45 203.5 312.57 203.5 312.70 202.4 312.82 202.1 312.95 203.8 313.07 203.7 313.20 203.5 313.32 203.9 313.45 204.3 313.57 202.6 313.70 204.1 313.82 204.6 313.95 204.3 314.07 204.0 314.20 204.1 314.32 202.5 314.45 203.2 314.57 204.3 314.70 204.7 314.82 203.9 314.95 203.3 315.07 203.5 315.20 204.3 315.32 205.2 315.45 204.2 315.57 203.3 315.70 204.1 315.82 204.0 315.95 205.5 316.07 204.2 316.20 203.7 316.32 203.7 316.45 202.8 316.57 203.0 316.70 203.4 316.82 203.2 316.95 203.9 317.07 203.9 317.20 204.5 317.32 205.0 317.45 203.9 317.57 203.7 317.70 202.5 317.82 204.1 317.95 204.4 318.07 203.3 318.20 203.6 318.32 203.4 318.45 204.7 318.57 204.4 318.70 204.9 318.82 203.0 318.95 206.0 319.07 203.3 319.20 203.2 319.32 204.1 319.45 203.6 319.57 205.4 319.70 203.7 319.82 203.5 319.95 204.8 320.07 205.0 320.20 203.4 320.32 203.7 320.45 203.8 320.57 204.0 320.70 205.4 320.82 205.1 320.95 204.9 321.07 205.1 321.20 204.2 321.32 204.8 321.45 204.1 321.57 203.6 321.70 205.4 321.82 202.9 321.95 204.2 322.07 203.8 322.20 203.0 322.32 203.9 322.45 204.3 322.57 204.6 322.70 203.6 322.82 204.8 322.95 204.5 323.07 204.9 323.20 202.8 323.32 204.0 323.45 203.8 323.57 204.8 323.70 203.8 323.82 204.0 323.95 203.5 324.07 203.5 324.20 203.7 324.32 205.1 324.45 203.6 324.57 202.6 324.70 204.6 324.82 204.1 324.95 204.8 325.07 204.8 325.20 204.2 325.32 204.1 325.45 204.1 325.57 204.5 325.70 203.9 325.82 204.6 325.95 205.5 326.07 204.0 326.20 204.1 326.32 204.1 326.45 205.0 326.57 205.1 326.70 205.6 326.82 205.1 326.95 204.7 327.07 204.9 327.20 203.6 327.32 205.1 327.45 204.8 327.57 206.2 327.70 205.7 327.82 204.1 327.95 204.3 328.07 205.4 328.20 203.2 328.32 204.0 328.45 205.0 328.57 205.2 328.70 204.9 328.82 205.6 328.95 204.6 329.07 204.9 329.20 204.6 329.32 204.0 329.45 204.8 329.57 204.4 329.70 204.9 329.82 202.9 329.95 204.9 330.07 204.5 330.20 204.4 330.32 204.9 330.45 204.5 330.57 205.6 330.70 205.9 330.82 205.6 330.95 205.7 331.07 205.2 331.20 205.0 331.32 204.0 331.45 204.7 331.57 205.9" stroke="#ff0000" stroke-width="1.15"/>
</g>
<rect x="26.2" y="1.7" width="305.2" height="226.3" fill="none" stroke="#444444" stroke-width="1.15"/>
<path d="M46.55 228.0 V224.0 M87.24 228.0 V224.0 M127.93 228.0 V224.0 M168.63 228.0 V224.0 M209.32 228.0 V224.0 M250.01 228.0 V224.0 M290.71 228.0 V224.0 M331.40 228.0 V224.0 M66.89 228.0 V225.8 M107.59 228.0 V225.8 M148.28 228.0 V225.8 M188.97 228.0 V225.8 M229.67 228.0 V225.8 M270.36 228.0 V225.8 M311.05 228.0 V225.8" stroke="#444444" stroke-width="1.15" fill="none"/>
<g font-family='"Liberation Serif", serif' font-size="9.5" fill="#222" text-anchor="middle">
<text x="46.55" y="240.6">10</text>
<text x="87.24" y="240.6">20</text>
<text x="127.93" y="240.6">30</text>
<text x="168.63" y="240.6">40</text>
<text x="209.32" y="240.6">50</text>
<text x="250.01" y="240.6">60</text>
<text x="290.71" y="240.6">70</text>
<text x="331.40" y="240.6">80</text>
</g>
<text x="2.2" y="12.6" font-family='"Liberation Serif", serif' font-size="17.3" fill="#111">(a)</text>
<text x="257" y="29.3" font-family='"Liberation Serif", serif' font-size="17" fill="#111">ZFG500</text>
<text x="287.8" y="123.0" font-family='"Liberation Serif", serif' font-size="11.7" font-weight="bold" fill="#111">before</text>
<text x="291.7" y="195.2" font-family='"Liberation Serif", serif' font-size="11.9" font-weight="bold" fill="#111">after</text>
<text transform="translate(9.5,122.3) rotate(-90)" text-anchor="middle" font-family='"Liberation Serif", serif' font-size="12.4" fill="#111">Intensity (a.u.)</text>
<text x="152.2" y="255.8" font-family='"Liberation Serif", serif' font-size="12" fill="#111"><tspan font-style="italic">2&#952;</tspan><tspan dx="4.7">(degree)</tspan></text>
<path d="M381.7 209.30 H385.9 M381.7 172.10 H385.9 M381.7 134.90 H385.9 M381.7 97.70 H385.9 M381.7 60.50 H385.9 M381.7 23.30 H385.9 M381.7 190.70 H383.9 M381.7 153.50 H383.9 M381.7 116.30 H383.9 M381.7 79.10 H383.9 M381.7 41.90 H383.9" stroke="#444444" stroke-width="1.15" fill="none"/>
<path d="M410.14 228.2 V224.2 M438.58 228.2 V224.2 M395.92 228.2 V226.0 M424.36 228.2 V226.0" stroke="#444444" stroke-width="1.15" fill="none"/>
<defs><clipPath id="cb0"><rect x="381.7" y="4.5" width="63.3" height="223.7"/></clipPath></defs>
<g clip-path="url(#cb0)"><path d="M381.84 26.90 L386.30 141.10 M386.92 148.27 L390.70 176.33 M392.23 183.34 L394.87 192.06 M404.00 200.24 L406.80 201.36 M413.72 203.04 L416.04 203.26 M423.19 204.09 L425.53 204.41 M432.69 205.20 L434.99 205.40" fill="none" stroke="#3a3a3a" stroke-width="0.9"/><rect x="379.40" y="21.00" width="4.6" height="4.6" fill="#000000"/><rect x="384.14" y="142.40" width="4.6" height="4.6" fill="#000000"/><rect x="388.88" y="177.60" width="4.6" height="4.6" fill="#000000"/><rect x="393.62" y="193.20" width="4.6" height="4.6" fill="#000000"/><rect x="398.36" y="196.60" width="4.6" height="4.6" fill="#000000"/><rect x="407.84" y="200.40" width="4.6" height="4.6" fill="#000000"/><rect x="417.32" y="201.30" width="4.6" height="4.6" fill="#000000"/><rect x="426.80" y="202.60" width="4.6" height="4.6" fill="#000000"/><rect x="436.28" y="203.40" width="4.6" height="4.6" fill="#000000"/></g>
<rect x="381.7" y="4.5" width="63.3" height="223.7" fill="none" stroke="#444444" stroke-width="1.15"/>
<g font-family='"Liberation Serif", serif' font-size="9" fill="#222" text-anchor="middle"><text x="381.70" y="239.3">0</text><text x="410.14" y="239.3">90</text><text x="438.58" y="239.3">180</text></g>
<text x="393.4" y="21.0" font-family='"Liberation Serif", serif' font-size="11" fill="#111">Cycle 1</text>
<path d="M477.94 228.2 V224.2 M506.38 228.2 V224.2 M463.72 228.2 V226.0 M492.16 228.2 V226.0" stroke="#444444" stroke-width="1.15" fill="none"/>
<defs><clipPath id="cb1"><rect x="449.5" y="4.5" width="63.1" height="223.7"/></clipPath></defs>
<g clip-path="url(#cb1)"><path d="M449.77 26.79 L453.97 87.71 M454.65 95.48 L458.57 132.92 M459.97 140.57 L462.73 151.03 M464.61 158.60 L467.57 171.20 M470.70 178.19 L475.70 185.31 M480.49 191.45 L484.87 196.55 M491.31 199.71 L493.01 199.79 M500.72 200.77 L502.56 201.13" fill="none" stroke="#ff6b6b" stroke-width="0.9"/><circle cx="449.50" cy="22.90" r="2.6" fill="#ff0000"/><circle cx="454.24" cy="91.60" r="2.6" fill="#ff0000"/><circle cx="458.98" cy="136.80" r="2.6" fill="#ff0000"/><circle cx="463.72" cy="154.80" r="2.6" fill="#ff0000"/><circle cx="468.46" cy="175.00" r="2.6" fill="#ff0000"/><circle cx="477.94" cy="188.50" r="2.6" fill="#ff0000"/><circle cx="487.42" cy="199.50" r="2.6" fill="#ff0000"/><circle cx="496.90" cy="200.00" r="2.6" fill="#ff0000"/><circle cx="506.38" cy="201.90" r="2.6" fill="#ff0000"/></g>
<rect x="449.5" y="4.5" width="63.1" height="223.7" fill="none" stroke="#444444" stroke-width="1.15"/>
<g font-family='"Liberation Serif", serif' font-size="9" fill="#222" text-anchor="middle"><text x="449.50" y="239.3">0</text><text x="477.94" y="239.3">90</text><text x="506.38" y="239.3">180</text></g>
<text x="458.1" y="21.0" font-family='"Liberation Serif", serif' font-size="11" fill="#111">Cycle 2</text>
<path d="M546.84 228.2 V224.2 M575.28 228.2 V224.2 M532.62 228.2 V226.0 M561.06 228.2 V226.0" stroke="#444444" stroke-width="1.15" fill="none"/>
<defs><clipPath id="cb2"><rect x="518.4" y="4.5" width="63.3" height="223.7"/></clipPath></defs>
<g clip-path="url(#cb2)"><path d="M518.62 26.79 L522.92 89.11 M523.68 95.45 L527.34 116.85 M528.38 123.16 L532.12 147.04 M533.23 153.34 L536.75 171.56 M540.15 176.26 L544.05 178.44 M548.77 182.55 L554.39 189.95 M559.33 193.58 L562.79 194.82 M568.78 197.06 L572.30 198.44" fill="none" stroke="#5a5aff" stroke-width="0.9"/><path d="M518.40 20.70 L521.30 26.00 L515.50 26.00Z" fill="#0000ff"/><path d="M523.14 89.40 L526.04 94.70 L520.24 94.70Z" fill="#0000ff"/><path d="M527.88 117.10 L530.78 122.40 L524.98 122.40Z" fill="#0000ff"/><path d="M532.62 147.30 L535.52 152.60 L529.72 152.60Z" fill="#0000ff"/><path d="M537.36 171.80 L540.26 177.10 L534.46 177.10Z" fill="#0000ff"/><path d="M546.84 177.10 L549.74 182.40 L543.94 182.40Z" fill="#0000ff"/><path d="M556.32 189.60 L559.22 194.90 L553.42 194.90Z" fill="#0000ff"/><path d="M565.80 193.00 L568.70 198.30 L562.90 198.30Z" fill="#0000ff"/><path d="M575.28 196.70 L578.18 202.00 L572.38 202.00Z" fill="#0000ff"/></g>
<rect x="518.4" y="4.5" width="63.3" height="223.7" fill="none" stroke="#444444" stroke-width="1.15"/>
<g font-family='"Liberation Serif", serif' font-size="9" fill="#222" text-anchor="middle"><text x="518.40" y="239.3">0</text><text x="546.84" y="239.3">90</text><text x="575.28" y="239.3">180</text></g>
<text x="529.0" y="21.0" font-family='"Liberation Serif", serif' font-size="11" fill="#111">Cycle 3</text>
<path d="M618.24 228.2 V224.2 M646.68 228.2 V224.2 M604.02 228.2 V226.0 M632.46 228.2 V226.0" stroke="#444444" stroke-width="1.15" fill="none"/>
<defs><clipPath id="cb3"><rect x="589.8" y="4.5" width="63.1" height="223.7"/></clipPath></defs>
<g clip-path="url(#cb3)"><path d="M590.00 26.29 L594.34 96.01 M595.20 102.53 L598.62 119.27 M599.96 125.73 L603.34 141.87 M604.67 148.34 L608.11 165.46 M610.28 171.63 L616.72 184.07 M620.18 189.67 L625.78 197.33 M631.01 200.28 L633.91 200.52 M640.49 201.01 L643.39 201.19" fill="none" stroke="#c25a5a" stroke-width="0.9"/><path d="M589.80 19.90 L592.70 23.00 L589.80 26.10 L586.90 23.00Z" fill="#990000"/><path d="M594.54 96.20 L597.44 99.30 L594.54 102.40 L591.64 99.30Z" fill="#990000"/><path d="M599.28 119.40 L602.18 122.50 L599.28 125.60 L596.38 122.50Z" fill="#990000"/><path d="M604.02 142.00 L606.92 145.10 L604.02 148.20 L601.12 145.10Z" fill="#990000"/><path d="M608.76 165.60 L611.66 168.70 L608.76 171.80 L605.86 168.70Z" fill="#990000"/><path d="M618.24 183.90 L621.14 187.00 L618.24 190.10 L615.34 187.00Z" fill="#990000"/><path d="M627.72 196.90 L630.62 200.00 L627.72 203.10 L624.82 200.00Z" fill="#990000"/><path d="M637.20 197.70 L640.10 200.80 L637.20 203.90 L634.30 200.80Z" fill="#990000"/><path d="M646.68 198.30 L649.58 201.40 L646.68 204.50 L643.78 201.40Z" fill="#990000"/></g>
<rect x="589.8" y="4.5" width="63.1" height="223.7" fill="none" stroke="#444444" stroke-width="1.15"/>
<g font-family='"Liberation Serif", serif' font-size="9" fill="#222" text-anchor="middle"><text x="589.80" y="239.3">0</text><text x="618.24" y="239.3">90</text><text x="646.68" y="239.3">180</text></g>
<text x="598.1" y="21.0" font-family='"Liberation Serif", serif' font-size="11" fill="#111">Cycle 4</text>
<path d="M689.24 228.2 V224.2 M717.68 228.2 V224.2 M675.02 228.2 V226.0 M703.46 228.2 V226.0" stroke="#444444" stroke-width="1.15" fill="none"/>
<defs><clipPath id="cb4"><rect x="660.8" y="4.5" width="63.1" height="223.7"/></clipPath></defs>
<g clip-path="url(#cb4)"><path d="M661.00 25.99 L665.34 89.81 M666.17 95.73 L669.65 111.97 M670.76 117.86 L674.54 141.04 M676.26 146.73 L678.52 151.67 M681.08 157.09 L687.92 171.01 M691.54 175.62 L696.42 179.68 M700.20 184.21 L706.72 195.69 M710.55 200.16 L715.33 203.94" fill="none" stroke="#ff8a75" stroke-width="0.9"/><path d="M660.80 20.30 L661.48 22.07 L663.37 22.17 L661.89 23.36 L662.39 25.18 L660.80 24.15 L659.21 25.18 L659.71 23.36 L658.23 22.17 L660.12 22.07Z" fill="#ff4a2a"/><path d="M665.54 90.10 L666.22 91.87 L668.11 91.97 L666.63 93.16 L667.13 94.98 L665.54 93.95 L663.95 94.98 L664.45 93.16 L662.97 91.97 L664.86 91.87Z" fill="#ff4a2a"/><path d="M670.28 112.20 L670.96 113.97 L672.85 114.07 L671.37 115.26 L671.87 117.08 L670.28 116.05 L668.69 117.08 L669.19 115.26 L667.71 114.07 L669.60 113.97Z" fill="#ff4a2a"/><path d="M675.02 141.30 L675.70 143.07 L677.59 143.17 L676.11 144.36 L676.61 146.18 L675.02 145.15 L673.43 146.18 L673.93 144.36 L672.45 143.17 L674.34 143.07Z" fill="#ff4a2a"/><path d="M679.76 151.70 L680.44 153.47 L682.33 153.57 L680.85 154.76 L681.35 156.58 L679.76 155.55 L678.17 156.58 L678.67 154.76 L677.19 153.57 L679.08 153.47Z" fill="#ff4a2a"/><path d="M689.24 171.00 L689.92 172.77 L691.81 172.87 L690.33 174.06 L690.83 175.88 L689.24 174.85 L687.65 175.88 L688.15 174.06 L686.67 172.87 L688.56 172.77Z" fill="#ff4a2a"/><path d="M698.72 178.90 L699.40 180.67 L701.29 180.77 L699.81 181.96 L700.31 183.78 L698.72 182.75 L697.13 183.78 L697.63 181.96 L696.15 180.77 L698.04 180.67Z" fill="#ff4a2a"/><path d="M708.20 195.60 L708.88 197.37 L710.77 197.47 L709.29 198.66 L709.79 200.48 L708.20 199.45 L706.61 200.48 L707.11 198.66 L705.63 197.47 L707.52 197.37Z" fill="#ff4a2a"/><path d="M717.68 203.10 L718.36 204.87 L720.25 204.97 L718.77 206.16 L719.27 207.98 L717.68 206.95 L716.09 207.98 L716.59 206.16 L715.11 204.97 L717.00 204.87Z" fill="#ff4a2a"/></g>
<rect x="660.8" y="4.5" width="63.1" height="223.7" fill="none" stroke="#444444" stroke-width="1.15"/>
<g font-family='"Liberation Serif", serif' font-size="9" fill="#222" text-anchor="middle"><text x="660.80" y="239.3">0</text><text x="689.24" y="239.3">90</text><text x="717.68" y="239.3">180</text></g>
<text x="669.1" y="21.0" font-family='"Liberation Serif", serif' font-size="11" fill="#111">Cycle 5</text>
<g font-family='"Liberation Serif", serif' font-size="9" fill="#222" text-anchor="end"><text x="377.3" y="212.40">0.0</text><text x="377.3" y="175.20">0.2</text><text x="377.3" y="138.00">0.4</text><text x="377.3" y="100.80">0.6</text><text x="377.3" y="63.60">0.8</text><text x="377.3" y="26.40">1.0</text></g>
<text x="343.6" y="12.5" font-family='"Liberation Serif", serif' font-size="17.2" fill="#111">(b)</text>
<text transform="translate(355.6,135.6) rotate(-90)" font-family='"Liberation Serif", serif' font-size="11.6" fill="#111">C/C<tspan font-size="6" dx="0.4" dy="5">0</tspan></text>
<text x="506.3" y="255.9" font-family='"Liberation Serif", serif' font-size="11.8" fill="#111">Irradiation time (min)</text>
</svg>
</body></html>
